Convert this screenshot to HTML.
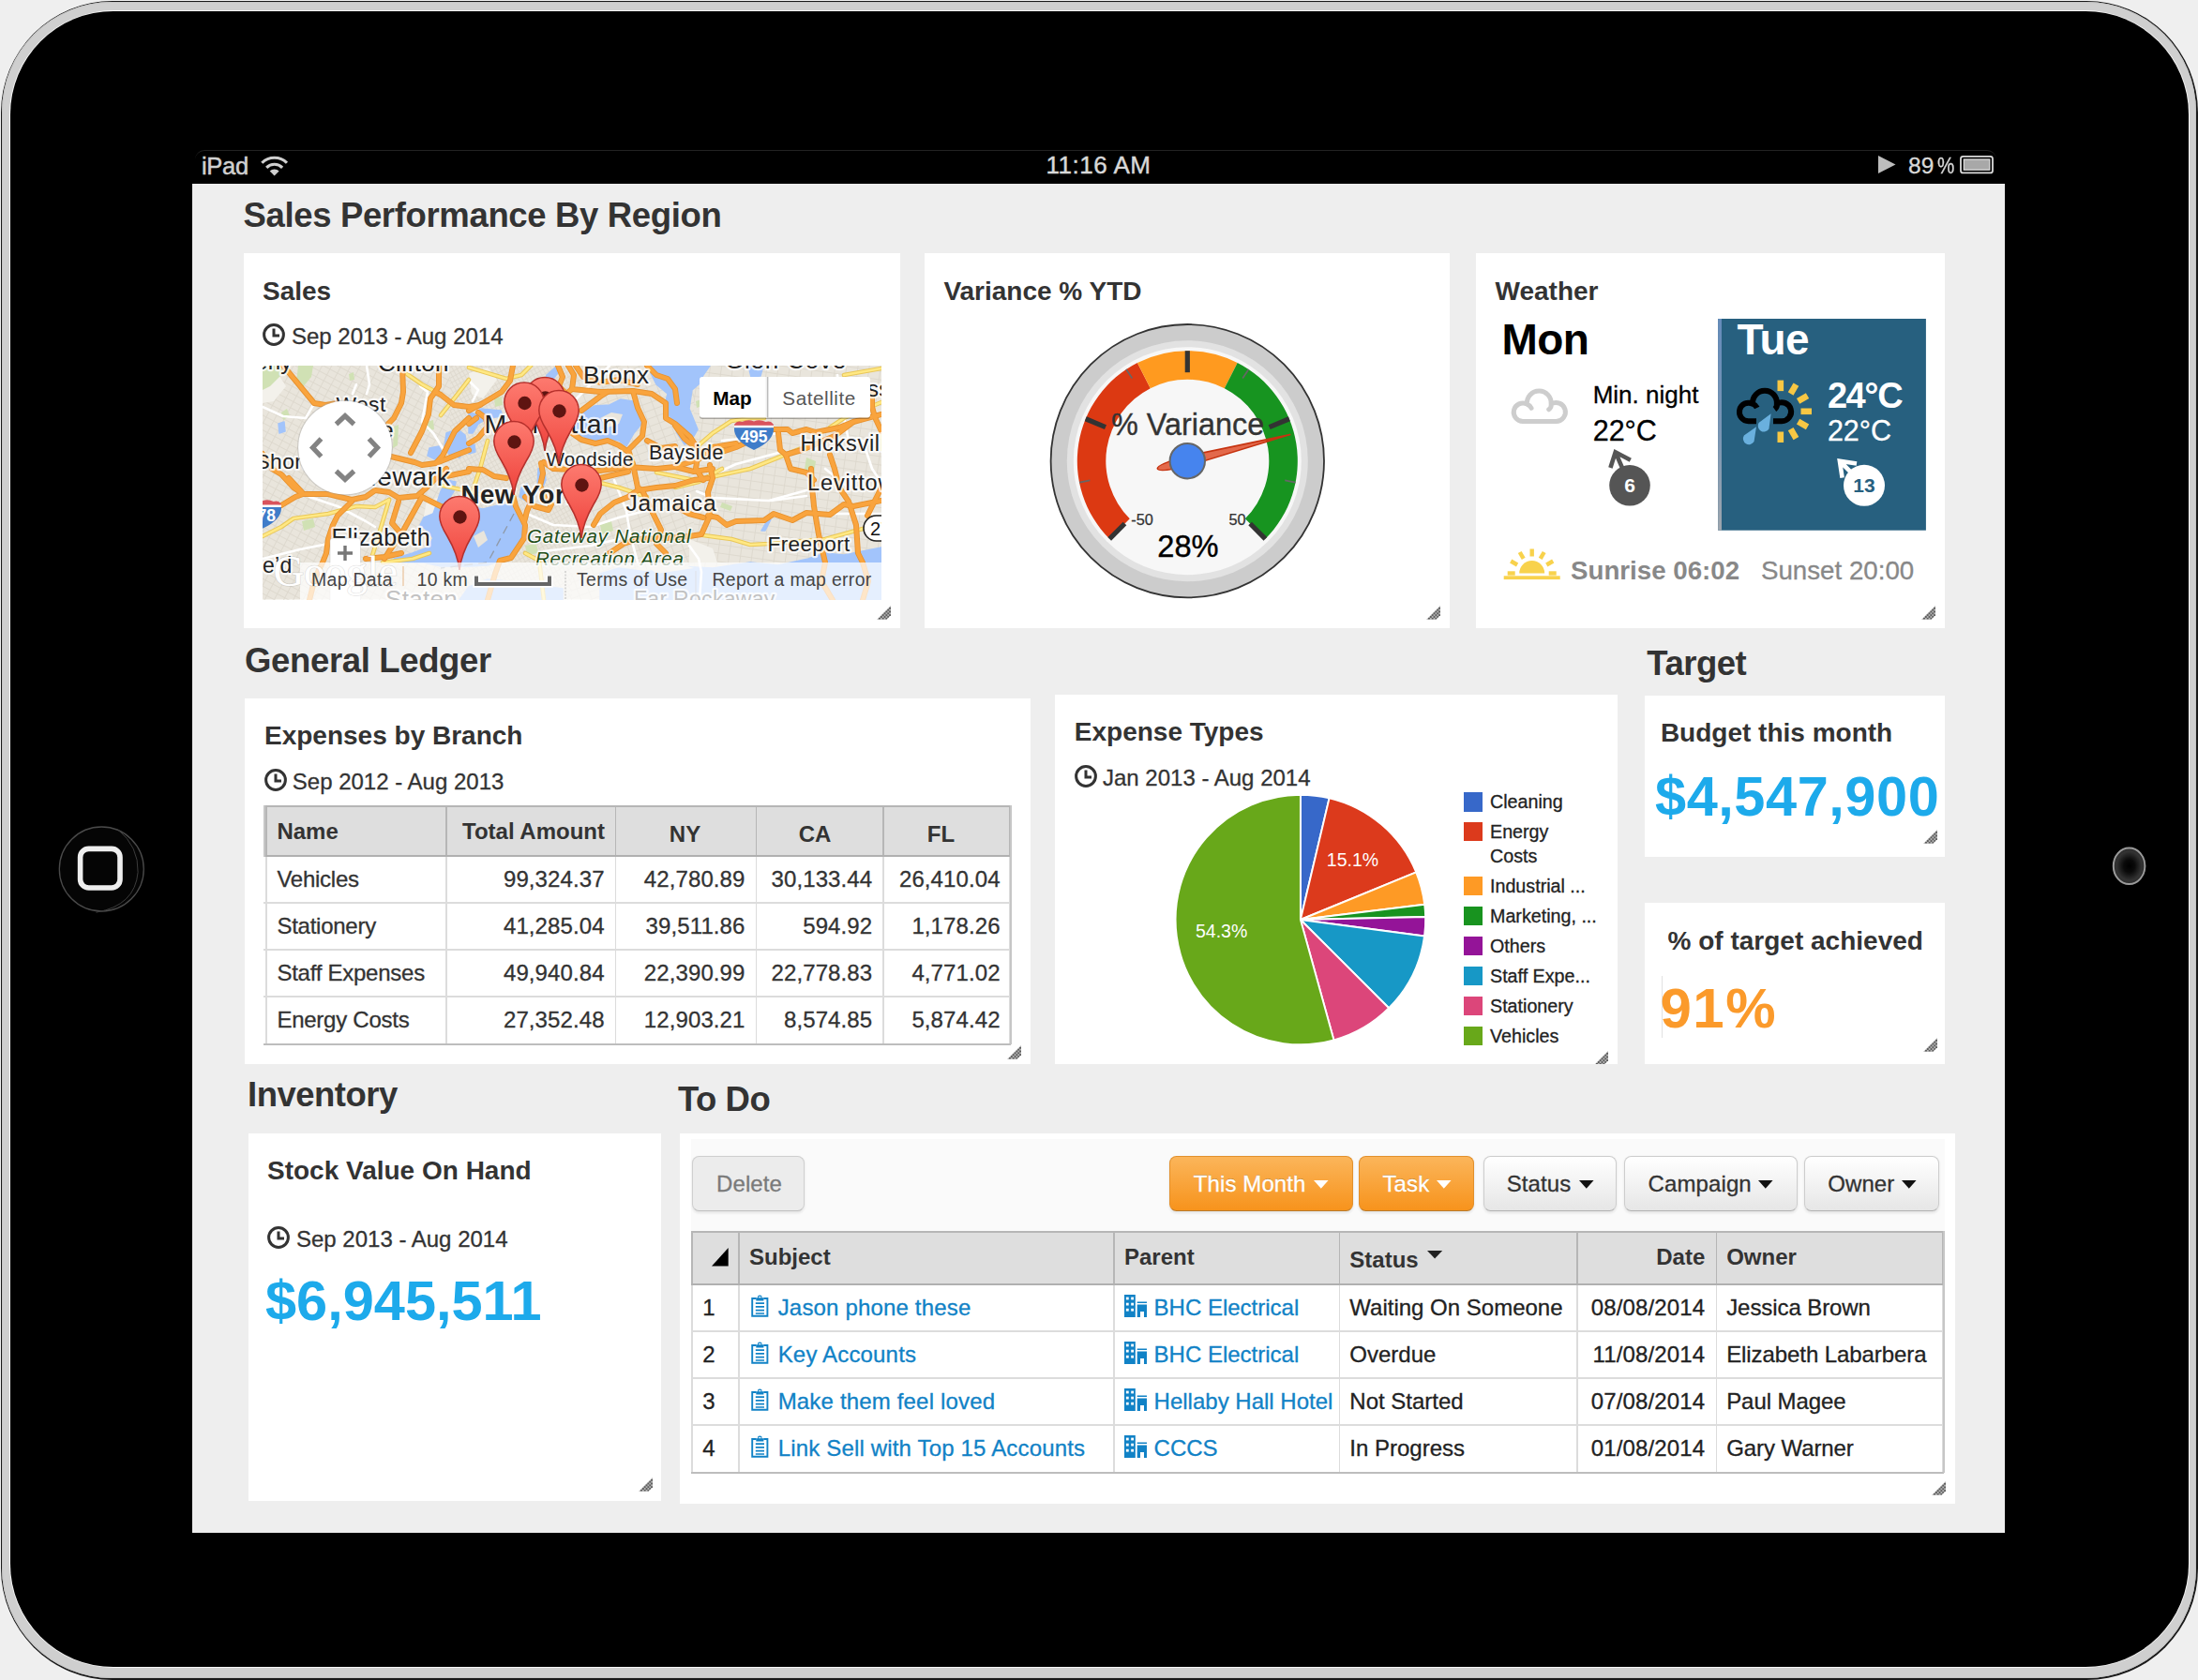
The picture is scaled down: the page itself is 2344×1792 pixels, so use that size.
<!DOCTYPE html>
<html lang="en"><head><meta charset="utf-8"><title>Sales Performance Dashboard</title>
<style>
html,body{margin:0;padding:0;}
body{width:2344px;height:1792px;position:relative;overflow:hidden;background:#efefef;font-family:"Liberation Sans",Arial,sans-serif;color:#333;}
.t{position:absolute;white-space:nowrap;line-height:1;}
.rh{position:absolute;}
svg{overflow:visible;}
svg text{font-family:"Liberation Sans",Arial,sans-serif;}

</style></head>
<body>
<svg width="0" height="0" style="position:absolute"><defs><pattern id="hatch" width="4" height="4" patternUnits="userSpaceOnUse"><rect width="4" height="4" fill="#b4b4b4"/><rect x="0" y="0" width="2" height="2" fill="#5c5c5c"/><rect x="2" y="2" width="2" height="2" fill="#5c5c5c"/></pattern></defs></svg>
<div style="position:absolute;left:0.5px;top:0.5px;width:2343px;height:1791px;border-radius:119px;background:#1a1a1a;"></div>
<div style="position:absolute;left:2px;top:2px;width:2340px;height:1788px;border-radius:117px;background:#cfcfcf;box-shadow:inset 0 0 0 1px #c4c4c4;"></div>
<div style="position:absolute;left:9.6px;top:10.6px;width:2325.8px;height:1768.8px;border-radius:111.5px;background:#f6f6f6;"></div>
<div style="position:absolute;left:11px;top:12px;width:2323px;height:1766px;border-radius:110px;background:#000;"></div>
<svg style="position:absolute;left:50px;top:870px" width="120" height="120" viewBox="50 870 120 120"><circle cx="108.3" cy="927" r="45" fill="#050505" stroke="#4a4a4a" stroke-width="1.3"/><path d="M125.7 884.8 Q148 903 147.1 930.4 Q144 966 102.5 973.2" fill="none" stroke="#3c3c3c" stroke-width="1"/><rect x="85.6" y="905.4" width="42.4" height="41.6" rx="9" fill="#050505" stroke="#eee" stroke-width="5.6"/></svg>
<svg style="position:absolute;left:2240px;top:890px" width="70" height="70" viewBox="2240 890 70 70"><defs><radialGradient id="cam"><stop offset="0" stop-color="#000"/><stop offset="0.35" stop-color="#0a0a0a"/><stop offset="0.8" stop-color="#333"/><stop offset="1" stop-color="#2a2a2a"/></radialGradient></defs><ellipse cx="2270.6" cy="923.7" rx="16.8" ry="19.3" fill="url(#cam)" stroke="#9a9a9a" stroke-width="2"/></svg>
<div class="" style="position:absolute;left:208.00px;top:159.50px;width:1921.00px;height:36.50px;background:#000;border-top:1px solid #222;border-radius:10px 10px 0 0;box-sizing:border-box;"></div>
<div class="t " style="top:165px;font-size:25.5px;left:215.00px;color:#d0d0d0;letter-spacing:-0.3px;-webkit-text-stroke:0.5px #d0d0d0;">iPad</div>
<svg style="position:absolute;left:276.6px;top:165.3px" width="31.3" height="23.9" viewBox="0 0 34 26"><g fill="none" stroke="#d0d0d0" stroke-width="3.4"><path d="M2.5 9.5 A20.5 20.5 0 0 1 31.5 9.5"/><path d="M7.8 15 A13 13 0 0 1 26.2 15"/></g><path d="M17 24.5 L11.6 19 A7.6 7.6 0 0 1 22.4 19 Z" fill="#d0d0d0"/></svg>
<div class="t " style="top:163px;font-size:26px;left:671.50px;width:1000px;text-align:center;color:#d8d8d8;letter-spacing:0.5px;-webkit-text-stroke:0.45px #d8d8d8;">11:16 AM</div>
<svg style="position:absolute;left:2000px;top:160px" width="130" height="34" viewBox="2000 160 130 34"><path d="M2003 166 L2021.5 175.5 L2003 185 Z" fill="#bdbdbd"/><rect x="2091" y="166.8" width="34" height="17.6" rx="2.5" fill="none" stroke="#dcdcdc" stroke-width="1.8"/><rect x="2094.3" y="170" width="27.5" height="11.2" fill="#a8a8a8" stroke="#e4e4e4" stroke-width="1.2"/></svg>
<div class="t " style="top:165px;font-size:24.5px;left:2035.00px;-webkit-text-stroke:0.3px #d8d8d8;color:#d8d8d8;">89</div>
<div class="t " style="top:165px;font-size:24.5px;left:2066.00px;-webkit-text-stroke:0.3px #d8d8d8;color:#d8d8d8;transform:scaleX(0.84);transform-origin:left;">%</div>
<div class="" style="position:absolute;left:205.00px;top:196.00px;width:1933.00px;height:1439.00px;background:#eee;"></div>
<div class="t " style="top:212px;font-size:36.5px;left:259.50px;font-weight:bold;letter-spacing:-0.35px;">Sales Performance By Region</div>
<div class="t " style="top:687px;font-size:36.5px;left:261.00px;font-weight:bold;letter-spacing:-0.35px;">General Ledger</div>
<div class="t " style="top:690px;font-size:36.5px;left:1756.30px;font-weight:bold;letter-spacing:-0.5px;">Target</div>
<div class="t " style="top:1150px;font-size:36.5px;left:264.00px;font-weight:bold;letter-spacing:-0.5px;">Inventory</div>
<div class="t " style="top:1155px;font-size:36.5px;left:723.00px;font-weight:bold;letter-spacing:-0.5px;">To Do</div>
<div class="card" style="position:absolute;left:260.00px;top:270.00px;width:700.00px;height:400.00px;background:#fff;overflow:hidden;"><svg class="rh" style="left:675.40px;top:375.60px" width="15.2" height="14.8" viewBox="0 0 16 16"><path d="M16 0V11L11.3 16H0Z" fill="url(#hatch)"/></svg></div>
<div class="t " style="top:297px;font-size:28px;left:280.00px;font-weight:bold;">Sales</div>
<svg style="position:absolute;left:280.00px;top:345.00px" width="24" height="24" viewBox="0 0 24 24"><circle cx="12" cy="12" r="10.4" fill="none" stroke="#333" stroke-width="3"/><path d="M12 5.5V13H18" fill="none" stroke="#333" stroke-width="3"/></svg>
<div class="t " style="top:347px;font-size:24px;left:311.00px;-webkit-text-stroke:0.3px #333;">Sep 2013 - Aug 2014</div>
<div class="card" style="position:absolute;left:986.00px;top:270.00px;width:560.00px;height:400.00px;background:#fff;overflow:hidden;"><svg class="rh" style="left:535.40px;top:375.60px" width="15.2" height="14.8" viewBox="0 0 16 16"><path d="M16 0V11L11.3 16H0Z" fill="url(#hatch)"/></svg></div>
<div class="t " style="top:297px;font-size:28px;left:1006.40px;font-weight:bold;">Variance % YTD</div>
<div class="card" style="position:absolute;left:1574.00px;top:270.00px;width:500.00px;height:400.00px;background:#fff;overflow:hidden;"><svg class="rh" style="left:475.40px;top:375.50px" width="15.2" height="14.8" viewBox="0 0 16 16"><path d="M16 0V11L11.3 16H0Z" fill="url(#hatch)"/></svg></div>
<div class="t " style="top:297px;font-size:28px;left:1594.50px;font-weight:bold;">Weather</div>
<svg style="position:absolute;left:1110px;top:335px" width="320" height="320" viewBox="1110 335 320 320"><circle cx="1266.3" cy="491.7" r="145.7" fill="#ccc" stroke="#333" stroke-width="1.8"/><circle cx="1266.3" cy="491.7" r="128.5" fill="#e2e2e2"/><circle cx="1266.3" cy="491.7" r="121.5" fill="#f7f7f7"/><path d="M1183.21 574.79 A117.5 117.5 0 0 1 1212.96 387.01 L1226.80 414.18 A87 87 0 0 0 1204.78 553.22 Z" fill="#dc3912"/><path d="M1212.96 387.01 A117.5 117.5 0 0 1 1319.64 387.01 L1305.80 414.18 A87 87 0 0 0 1226.80 414.18 Z" fill="#ff9a1f"/><path d="M1319.64 387.01 A117.5 117.5 0 0 1 1349.39 574.79 L1327.82 553.22 A87 87 0 0 0 1305.80 414.18 Z" fill="#179420"/><path d="M1183.21 574.79 L1199.48 558.52" stroke="#333" stroke-width="5.2"/><path d="M1157.74 446.73 L1178.99 455.54" stroke="#333" stroke-width="5.2"/><path d="M1266.30 374.20 L1266.30 397.20" stroke="#333" stroke-width="5.2"/><path d="M1374.86 446.73 L1353.61 455.54" stroke="#333" stroke-width="5.2"/><path d="M1349.39 574.79 L1333.12 558.52" stroke="#333" stroke-width="5.2"/><path d="M1151.06 514.62 L1162.34 512.38" stroke="#666" stroke-width="1.7"/><path d="M1201.02 394.00 L1207.41 403.56" stroke="#666" stroke-width="1.7"/><path d="M1331.58 394.00 L1325.19 403.56" stroke="#666" stroke-width="1.7"/><path d="M1381.54 514.62 L1370.26 512.38" stroke="#666" stroke-width="1.7"/><text x="1266.6" y="464.3" font-size="32.4" text-anchor="middle" fill="#333" stroke="#333" stroke-width="0.35">% Variance</text><text x="1266.8999999999999" y="593.6" font-size="32.6" text-anchor="middle" fill="#000" stroke="#000" stroke-width="0.4">28%</text><text x="1206.3" y="560" font-size="16.3" fill="#333" stroke="#333" stroke-width="0.25">-50</text><text x="1310.5" y="560" font-size="16.3" fill="#333" stroke="#333" stroke-width="0.25">50</text><path d="M1375.75 463.60 L1267.59 496.74 Q1235.50 504.44 1234.34 499.91 Q1233.17 495.37 1265.01 486.66 Z" fill="#dc3912" fill-opacity="0.75" stroke="#c63310" stroke-width="1.6" stroke-linejoin="round"/><circle cx="1266.3" cy="491.7" r="18.7" fill="#4684ee" stroke="#666" stroke-width="2"/></svg>
<svg style="position:absolute;left:1574px;top:330px" width="500" height="320" viewBox="1574 330 500 320"><defs><linearGradient id="tl" x1="0" y1="0" x2="0" y2="1"><stop offset="0" stop-color="#668cbb"/><stop offset="0.55" stop-color="#7a96b4"/><stop offset="1" stop-color="#9ea6ae"/></linearGradient><filter id="bl"><feGaussianBlur stdDeviation="0.5"/></filter></defs><path d="M1624.00 449.50 A9.75 9.75 0 1 1 1628.45 431.08 A12.9 12.9 0 1 1 1654.15 430.99 A10.0 10.0 0 1 1 1659.40 449.50 Z M1628.45 431.08 q3.2 1.2 4.6 4.2 M1654.15 430.99 q0.6 3.6 -2.4 5.8" fill="none" stroke="#cdcdcd" stroke-width="5" stroke-linejoin="round" stroke-linecap="round" filter="url(#bl)"/><g filter="url(#bl)"><circle cx="1738" cy="517.8" r="21.8" fill="#555"/><path d="M1733 506 L1722.9 482.6 M1717.4 499 L1722.7 482.3 L1738.8 490.8" fill="none" stroke="#555" stroke-width="4.6" stroke-linejoin="miter"/></g><text x="1738" y="525.3" font-size="21" font-weight="bold" fill="#fff" text-anchor="middle">6</text><rect x="1832.2" y="340" width="221.7" height="225.7" fill="#27607f"/><rect x="1832.2" y="340" width="3.8" height="225.7" fill="url(#tl)"/><rect x="1895.50" y="405.60" width="6.6" height="11.5" fill="#f7c744" transform="rotate(0 1898.8 438.8)"/><rect x="1895.50" y="405.60" width="6.6" height="11.5" fill="#f7c744" transform="rotate(30 1898.8 438.8)"/><rect x="1895.50" y="405.60" width="6.6" height="11.5" fill="#f7c744" transform="rotate(60 1898.8 438.8)"/><rect x="1895.50" y="405.60" width="6.6" height="11.5" fill="#f7c744" transform="rotate(90 1898.8 438.8)"/><rect x="1895.50" y="405.60" width="6.6" height="11.5" fill="#f7c744" transform="rotate(120 1898.8 438.8)"/><rect x="1895.50" y="405.60" width="6.6" height="11.5" fill="#f7c744" transform="rotate(150 1898.8 438.8)"/><rect x="1895.50" y="405.60" width="6.6" height="11.5" fill="#f7c744" transform="rotate(180 1898.8 438.8)"/><path d="M1873.00 449.20 L1864.70 449.20 A9.75 9.75 0 1 1 1869.15 430.78 A12.9 12.9 0 1 1 1894.85 430.69 A10.0 10.0 0 1 1 1900.10 449.20 L1891.00 449.20 M1869.15 430.78 q3.2 1.2 4.6 4.2 M1894.85 430.69 q0.6 3.6 -2.4 5.8" fill="none" stroke="#000" stroke-width="6" stroke-linejoin="round"/><path d="M1888.60 441.20 L1875.56 451.02 A6.3 6.3 0 1 0 1886.44 457.38 Z" fill="#6ab0de"/><path d="M1873.00 455.20 L1859.84 464.48 A6.3 6.3 0 1 0 1870.56 471.12 Z" fill="#6ab0de"/><g filter="url(#bl)"><circle cx="1988" cy="517.8" r="22" fill="#fff"/><path d="M1976 505.8 L1962.2 492 M1964.6 509.6 L1961.9 491.7 L1980 494.4" fill="none" stroke="#fff" stroke-width="4.6" stroke-linejoin="miter"/></g><text x="1988" y="525.3" font-size="21" font-weight="bold" fill="#27607f" text-anchor="middle">13</text><path d="M1620.2 611.5 A13.5 13.5 0 0 1 1647.2 611.5 Z" fill="#f8d24c"/><rect x="1631.50" y="585.50" width="4.4" height="8" fill="#f8d24c" transform="rotate(-90 1633.7 611.5)"/><rect x="1631.50" y="585.50" width="4.4" height="8" fill="#f8d24c" transform="rotate(-60 1633.7 611.5)"/><rect x="1631.50" y="585.50" width="4.4" height="8" fill="#f8d24c" transform="rotate(-30 1633.7 611.5)"/><rect x="1631.50" y="585.50" width="4.4" height="8" fill="#f8d24c" transform="rotate(0 1633.7 611.5)"/><rect x="1631.50" y="585.50" width="4.4" height="8" fill="#f8d24c" transform="rotate(30 1633.7 611.5)"/><rect x="1631.50" y="585.50" width="4.4" height="8" fill="#f8d24c" transform="rotate(60 1633.7 611.5)"/><rect x="1631.50" y="585.50" width="4.4" height="8" fill="#f8d24c" transform="rotate(90 1633.7 611.5)"/><rect x="1603.7" y="614.3" width="60" height="3.8" fill="#f8d24c"/></svg>
<div class="t " style="top:339px;font-size:46px;left:1601.50px;font-weight:bold;color:#000;letter-spacing:-0.6px;">Mon</div>
<div class="t " style="top:339px;font-size:46px;left:1852.50px;font-weight:bold;color:#fff;letter-spacing:-0.6px;">Tue</div>
<div class="t " style="top:408px;font-size:26px;left:1698.70px;-webkit-text-stroke:0.3px #000;color:#000;">Min. night</div>
<div class="t " style="top:444px;font-size:30.5px;left:1698.70px;-webkit-text-stroke:0.3px #000;color:#000;">22°C</div>
<div class="t " style="top:403px;font-size:38px;left:1948.90px;font-weight:bold;color:#fff;letter-spacing:-1.4px;">24°C</div>
<div class="t " style="top:444px;font-size:30.5px;left:1948.90px;-webkit-text-stroke:0.3px #fff;color:#fff;">22°C</div>
<div class="t " style="top:595px;font-size:27.7px;left:1675.00px;font-weight:bold;color:#888;">Sunrise 06:02</div>
<div class="t " style="top:595px;font-size:27.7px;left:1878.00px;-webkit-text-stroke:0.3px #888;color:#888;">Sunset 20:00</div>
<svg style="position:absolute;left:280px;top:390px;overflow:hidden" width="660" height="249.5" viewBox="280 390 660 249.5"><defs>
<pattern id="st1" width="9" height="7" patternUnits="userSpaceOnUse" patternTransform="rotate(28)"><path d="M0 0.5H9M0.5 0V7" stroke="#d3cdc1" stroke-width="0.9" fill="none"/></pattern>
<pattern id="st2" width="11" height="8" patternUnits="userSpaceOnUse" patternTransform="rotate(-20)"><path d="M0 0.5H11M0.5 0V8" stroke="#d3cdc1" stroke-width="0.9" fill="none"/></pattern>
<pattern id="st3" width="5" height="4" patternUnits="userSpaceOnUse" patternTransform="rotate(61)"><path d="M0 0.5H5M0.5 0V4" stroke="#cfc9bd" stroke-width="0.8" fill="none"/></pattern>
<pattern id="st4" width="12" height="9" patternUnits="userSpaceOnUse" patternTransform="rotate(8)"><path d="M0 0.5H12M0.5 0V9" stroke="#d3cdc1" stroke-width="0.9" fill="none"/></pattern>
<linearGradient id="mk" x1="0" y1="0" x2="0" y2="1"><stop offset="0" stop-color="#fd7a6f"/><stop offset="0.55" stop-color="#f55c53"/><stop offset="1" stop-color="#ee3f3a"/></linearGradient>
<filter id="mb" x="-5%" y="-5%" width="110%" height="110%"><feGaussianBlur stdDeviation="0.45"/></filter>
<g id="pin"><path d="M0 0 C-1.5 -14 -6 -24 -13 -36 C-18 -44 -21.2 -50 -21.2 -57.3 A21.2 21.2 0 0 1 21.2 -57.3 C21.2 -50 18 -44 13 -36 C6 -24 1.5 -14 0 0 Z" fill="url(#mk)" stroke="#b5302c" stroke-width="1.5"/><circle cx="0.5" cy="-56.5" r="7.2" fill="#5e1411"/></g>
</defs><rect x="280" y="390" width="660" height="249.5" fill="#e9e5dc"/><rect x="280" y="390" width="200" height="250" fill="url(#st1)" opacity="0.55"/><rect x="480" y="390" width="130" height="250" fill="url(#st3)" opacity="0.5"/><rect x="610" y="390" width="130" height="250" fill="url(#st2)" opacity="0.55"/><rect x="740" y="390" width="200" height="250" fill="url(#st4)" opacity="0.55"/><path d="M280 405 L296 398 L305 412 L292 428 L280 430Z" fill="#f3f1eb"/><path d="M455 535 L468 530 L462 555 L450 560Z" fill="#f3f1eb"/><path d="M735 575 L760 585 L765 600 L735 600Z" fill="#f3f1eb"/><path d="M500 398 L520 392 L530 405 L515 425 L503 420Z" fill="#f3f1eb"/><path d="M280 390 L300 390 L302 398 L288 412 L280 416Z" fill="#d0e1b4"/><path d="M318 390 L334 390 L332 402 L322 414 L316 408Z" fill="#d0e1b4"/><path d="M322 556 L334 553 L336 562 L324 566Z" fill="#d0e1b4"/><path d="M300 440 L306 436 L309 444 L302 448Z" fill="#d0e1b4"/><path d="M372 399 L377 397 L378 405 L373 406Z" fill="#d0e1b4"/><path d="M455 450 L462 448 L463 458 L456 460Z" fill="#d0e1b4"/><path d="M560 582 L572 580 L574 590 L562 592Z" fill="#d0e1b4"/><path d="M860 488 L870 492 L868 505 L858 500Z" fill="#d0e1b4"/><path d="M770 536 L781 540 L779 545 L768 541Z" fill="#d0e1b4"/><path d="M527 425 L535 423 L536 432 L528 434Z" fill="#d0e1b4"/><path d="M420 455 L425 453 L424 475 L419 478Z" fill="#d0e1b4"/><path d="M640 560 L652 556 L654 566 L642 570Z" fill="#d0e1b4"/><path d="M742 428 L748 426 L749 433 L743 435Z" fill="#d0e1b4"/><path d="M693 390 L757 390 L750 400 L745 410 L738 416 L735 436 L744 458 L737 470 L730 474 L722 462 L716 446 L708 436 L712 420 L700 410 L694 398Z" fill="#a2c4fb" stroke="#a2c4fb" stroke-width="1.5" stroke-linejoin="round"/><path d="M622 440 L634 433 L650 432 L662 426 L675 428 L682 440 L684 452 L676 462 L668 476 L660 470 L650 468 L640 470 L628 468 L614 462 L610 452 L616 446Z" fill="#a2c4fb" stroke="#a2c4fb" stroke-width="1.5" stroke-linejoin="round"/><path d="M583 400 L592 392 L598 394 L590 404 L586 414 L580 414Z" fill="#a2c4fb" stroke="#a2c4fb" stroke-width="1.5" stroke-linejoin="round"/><path d="M500 440 L508 442 L512 436 L534 438 L536 444 L520 446 L510 452 L504 462 L500 462Z" fill="#a2c4fb" stroke="#a2c4fb" stroke-width="1.5" stroke-linejoin="round"/><path d="M500 476 L506 474 L507 482 L500 484Z" fill="#a2c4fb" stroke="#a2c4fb" stroke-width="1.5" stroke-linejoin="round"/><path d="M470 548 L480 544 L492 546 L500 540 L515 543 L535 538 L548 540 L554 550 L560 558 L558 572 L545 590 L533 598 L520 603 L500 604 L470 604 L452 600 L430 600 L420 596 L440 590 L456 584 L462 574 L456 566 L448 560 L452 552 L462 548Z" fill="#a2c4fb" stroke="#a2c4fb" stroke-width="1.5" stroke-linejoin="round"/><path d="M476 512 L486 514 L484 524 L476 536 L468 548 L462 548 L466 536 L470 524Z" fill="#a2c4fb" stroke="#a2c4fb" stroke-width="1.5" stroke-linejoin="round"/><path d="M476 462 L488 458 L496 464 L498 478 L490 488 L480 486 L474 476Z" fill="#a2c4fb" stroke="#a2c4fb" stroke-width="1.5" stroke-linejoin="round"/><path d="M458 478 L468 476 L472 484 L464 490 L456 486Z" fill="#a2c4fb" stroke="#a2c4fb" stroke-width="1.5" stroke-linejoin="round"/><path d="M574 500 L580 498 L582 512 L578 522 L573 520Z" fill="#a2c4fb" stroke="#a2c4fb" stroke-width="1.5" stroke-linejoin="round"/><path d="M556 520 L562 516 L566 528 L560 534 L554 530Z" fill="#a2c4fb" stroke="#a2c4fb" stroke-width="1.5" stroke-linejoin="round"/><path d="M798 390 L814 390 L811 401 L801 402Z" fill="#a2c4fb" stroke="#a2c4fb" stroke-width="1.5" stroke-linejoin="round"/><path d="M862 596 L880 590 L900 592 L920 588 L940 584 L940 640 L640 640 L640 612 L660 606 L690 610 L720 604 L760 606 L800 600 L830 603Z" fill="#a2c4fb" stroke="#a2c4fb" stroke-width="1.5" stroke-linejoin="round"/><path d="M500 626 L520 618 L560 622 L600 628 L600 640 L490 640Z" fill="#a2c4fb" stroke="#a2c4fb" stroke-width="1.5" stroke-linejoin="round"/><path d="M297 452 L303 450 L304 460 L298 462Z" fill="#a2c4fb" stroke="#a2c4fb" stroke-width="1.5" stroke-linejoin="round"/><path d="M818 556 L822 554 L816 566 L812 566Z" fill="#a2c4fb" stroke="#a2c4fb" stroke-width="1.5" stroke-linejoin="round"/><path d="M640 446 L652 440 L664 442 L660 452 L648 456Z" fill="#e9e5dc"/><path d="M690 604 L720 600 L740 606 L700 612Z" fill="#e9e5dc"/><path d="M505 572 L516 566 L520 576 L510 584Z" fill="#e9e5dc"/><path d="M548 548 L520 600 L470 606" stroke="#8f99a8" stroke-width="1.3" stroke-dasharray="9 6" fill="none"/><path d="M280 434 L302 444 L326 446 L334 432" stroke="#fff" stroke-width="2.6" fill="none" stroke-linejoin="round" stroke-linecap="round"/><path d="M380 410 L376 420" stroke="#fff" stroke-width="2.6" fill="none" stroke-linejoin="round" stroke-linecap="round"/><path d="M391 390 L394 410 L391 420" stroke="#fff" stroke-width="2.6" fill="none" stroke-linejoin="round" stroke-linecap="round"/><path d="M448 412 L456 418 L450 450 L462 462 L472 478" stroke="#fff" stroke-width="2.6" fill="none" stroke-linejoin="round" stroke-linecap="round"/><path d="M280 596 L320 586 L350 580" stroke="#fff" stroke-width="2.6" fill="none" stroke-linejoin="round" stroke-linecap="round"/><path d="M330 530 L360 540 L390 556 L400 562" stroke="#fff" stroke-width="2.6" fill="none" stroke-linejoin="round" stroke-linecap="round"/><path d="M500 406 L510 416 L504 428" stroke="#fff" stroke-width="2.6" fill="none" stroke-linejoin="round" stroke-linecap="round"/><path d="M562 548 L590 560 L630 562 L660 552 L700 542" stroke="#fff" stroke-width="2.6" fill="none" stroke-linejoin="round" stroke-linecap="round"/><path d="M580 588 L630 582 L660 575" stroke="#fff" stroke-width="2.6" fill="none" stroke-linejoin="round" stroke-linecap="round"/><path d="M655 512 L668 545 L672 570 L680 600" stroke="#fff" stroke-width="2.6" fill="none" stroke-linejoin="round" stroke-linecap="round"/><path d="M763 505 L785 495 L830 483" stroke="#fff" stroke-width="2.6" fill="none" stroke-linejoin="round" stroke-linecap="round"/><path d="M743 524 L760 531 L820 534 L860 523" stroke="#fff" stroke-width="2.6" fill="none" stroke-linejoin="round" stroke-linecap="round"/><path d="M822 534 L860 529" stroke="#fff" stroke-width="2.6" fill="none" stroke-linejoin="round" stroke-linecap="round"/><path d="M890 548 L940 548" stroke="#fff" stroke-width="2.6" fill="none" stroke-linejoin="round" stroke-linecap="round"/><path d="M770 470 L790 468 L830 462" stroke="#fff" stroke-width="2.6" fill="none" stroke-linejoin="round" stroke-linecap="round"/><path d="M735 582 L745 596 L748 610 L746 640" stroke="#fff" stroke-width="2.6" fill="none" stroke-linejoin="round" stroke-linecap="round"/><path d="M893 400 L897 430 L905 470" stroke="#fff" stroke-width="2.6" fill="none" stroke-linejoin="round" stroke-linecap="round"/><path d="M920 470 L930 500 L940 515" stroke="#fff" stroke-width="2.6" fill="none" stroke-linejoin="round" stroke-linecap="round"/><path d="M610 430 L640 400 L650 390" stroke="#fff" stroke-width="2.6" fill="none" stroke-linejoin="round" stroke-linecap="round"/><path d="M880 500 L905 520" stroke="#fff" stroke-width="2.6" fill="none" stroke-linejoin="round" stroke-linecap="round"/><path d="M280 572 L300 562 L313 553 L350 548 L380 540 L400 541 L415 533" stroke="#e9c758" stroke-width="4.6" fill="none" stroke-linejoin="round" stroke-linecap="round"/><path d="M434 399 L450 410 L463 417" stroke="#e9c758" stroke-width="4.6" fill="none" stroke-linejoin="round" stroke-linecap="round"/><path d="M500 405 L486 423 L470 443" stroke="#e9c758" stroke-width="4.6" fill="none" stroke-linejoin="round" stroke-linecap="round"/><path d="M745 475 L760 462 L780 449 L800 446 L815 446" stroke="#e9c758" stroke-width="4.6" fill="none" stroke-linejoin="round" stroke-linecap="round"/><path d="M900 400 L940 393" stroke="#e9c758" stroke-width="4.6" fill="none" stroke-linejoin="round" stroke-linecap="round"/><path d="M940 429 L900 446 L885 456" stroke="#e9c758" stroke-width="4.6" fill="none" stroke-linejoin="round" stroke-linecap="round"/><path d="M763 508 L800 500 L830 488 L855 478" stroke="#e9c758" stroke-width="4.6" fill="none" stroke-linejoin="round" stroke-linecap="round"/><path d="M750 571 L780 575 L800 581 L820 580 L880 575 L920 564" stroke="#e9c758" stroke-width="4.6" fill="none" stroke-linejoin="round" stroke-linecap="round"/><path d="M500 392 L540 404 L556 400 L566 390" stroke="#e9c758" stroke-width="4.6" fill="none" stroke-linejoin="round" stroke-linecap="round"/><path d="M520 470 L512 500 L505 520" stroke="#e9c758" stroke-width="4.6" fill="none" stroke-linejoin="round" stroke-linecap="round"/><path d="M472 518 L500 524 L520 530" stroke="#e9c758" stroke-width="4.6" fill="none" stroke-linejoin="round" stroke-linecap="round"/><path d="M415 533 L404 570 L396 596" stroke="#e9c758" stroke-width="4.6" fill="none" stroke-linejoin="round" stroke-linecap="round"/><path d="M640 515 L660 520 L690 530" stroke="#e9c758" stroke-width="4.6" fill="none" stroke-linejoin="round" stroke-linecap="round"/><path d="M700 504 L740 512 L763 508" stroke="#e9c758" stroke-width="4.6" fill="none" stroke-linejoin="round" stroke-linecap="round"/><path d="M720 520 L745 514 L770 500" stroke="#e9c758" stroke-width="4.6" fill="none" stroke-linejoin="round" stroke-linecap="round"/><path d="M560 590 L575 598 L580 640" stroke="#e9c758" stroke-width="4.6" fill="none" stroke-linejoin="round" stroke-linecap="round"/><path d="M408 600 L440 596 L458 590" stroke="#e9c758" stroke-width="4.6" fill="none" stroke-linejoin="round" stroke-linecap="round"/><path d="M280 572 L300 562 L313 553 L350 548 L380 540 L400 541 L415 533" stroke="#ffe884" stroke-width="2.6" fill="none" stroke-linejoin="round" stroke-linecap="round"/><path d="M434 399 L450 410 L463 417" stroke="#ffe884" stroke-width="2.6" fill="none" stroke-linejoin="round" stroke-linecap="round"/><path d="M500 405 L486 423 L470 443" stroke="#ffe884" stroke-width="2.6" fill="none" stroke-linejoin="round" stroke-linecap="round"/><path d="M745 475 L760 462 L780 449 L800 446 L815 446" stroke="#ffe884" stroke-width="2.6" fill="none" stroke-linejoin="round" stroke-linecap="round"/><path d="M900 400 L940 393" stroke="#ffe884" stroke-width="2.6" fill="none" stroke-linejoin="round" stroke-linecap="round"/><path d="M940 429 L900 446 L885 456" stroke="#ffe884" stroke-width="2.6" fill="none" stroke-linejoin="round" stroke-linecap="round"/><path d="M763 508 L800 500 L830 488 L855 478" stroke="#ffe884" stroke-width="2.6" fill="none" stroke-linejoin="round" stroke-linecap="round"/><path d="M750 571 L780 575 L800 581 L820 580 L880 575 L920 564" stroke="#ffe884" stroke-width="2.6" fill="none" stroke-linejoin="round" stroke-linecap="round"/><path d="M500 392 L540 404 L556 400 L566 390" stroke="#ffe884" stroke-width="2.6" fill="none" stroke-linejoin="round" stroke-linecap="round"/><path d="M520 470 L512 500 L505 520" stroke="#ffe884" stroke-width="2.6" fill="none" stroke-linejoin="round" stroke-linecap="round"/><path d="M472 518 L500 524 L520 530" stroke="#ffe884" stroke-width="2.6" fill="none" stroke-linejoin="round" stroke-linecap="round"/><path d="M415 533 L404 570 L396 596" stroke="#ffe884" stroke-width="2.6" fill="none" stroke-linejoin="round" stroke-linecap="round"/><path d="M640 515 L660 520 L690 530" stroke="#ffe884" stroke-width="2.6" fill="none" stroke-linejoin="round" stroke-linecap="round"/><path d="M700 504 L740 512 L763 508" stroke="#ffe884" stroke-width="2.6" fill="none" stroke-linejoin="round" stroke-linecap="round"/><path d="M720 520 L745 514 L770 500" stroke="#ffe884" stroke-width="2.6" fill="none" stroke-linejoin="round" stroke-linecap="round"/><path d="M560 590 L575 598 L580 640" stroke="#ffe884" stroke-width="2.6" fill="none" stroke-linejoin="round" stroke-linecap="round"/><path d="M408 600 L440 596 L458 590" stroke="#ffe884" stroke-width="2.6" fill="none" stroke-linejoin="round" stroke-linecap="round"/><path d="M302 390 L335 430 L347 432 L360 430" stroke="#e8922e" stroke-width="6" fill="none" stroke-linejoin="round" stroke-linecap="round"/><path d="M417 487 L442 493 L450 496 L465 494 L472 486 L485 460 L500 446" stroke="#e8922e" stroke-width="6" fill="none" stroke-linejoin="round" stroke-linecap="round"/><path d="M429 390 L430 418 L428 430 L420 446 L414 452" stroke="#e8922e" stroke-width="6" fill="none" stroke-linejoin="round" stroke-linecap="round"/><path d="M468 390 L468 412 L464 418 L459 425 L457 442 L450 460 L438 483" stroke="#e8922e" stroke-width="6" fill="none" stroke-linejoin="round" stroke-linecap="round"/><path d="M464 418 L470 421 L484 432 L500 434 L512 432" stroke="#e8922e" stroke-width="6" fill="none" stroke-linejoin="round" stroke-linecap="round"/><path d="M280 484 L290 500 L300 506 L313 520 L322 526" stroke="#e8922e" stroke-width="6" fill="none" stroke-linejoin="round" stroke-linecap="round"/><path d="M465 494 L500 480" stroke="#e8922e" stroke-width="6" fill="none" stroke-linejoin="round" stroke-linecap="round"/><path d="M476 508 L500 503" stroke="#e8922e" stroke-width="6" fill="none" stroke-linejoin="round" stroke-linecap="round"/><path d="M300 539 L315 530 L323 527 L350 527 L375 533 L390 530 L400 523 L415 525 L425 531 L445 529 L455 520 L465 510 L476 500" stroke="#e8922e" stroke-width="6" fill="none" stroke-linejoin="round" stroke-linecap="round"/><path d="M308 510 L322 525" stroke="#e8922e" stroke-width="6" fill="none" stroke-linejoin="round" stroke-linecap="round"/><path d="M425 535 L418 558 L425 566" stroke="#e8922e" stroke-width="6" fill="none" stroke-linejoin="round" stroke-linecap="round"/><path d="M450 530 L430 566 L415 588 L410 596" stroke="#e8922e" stroke-width="6" fill="none" stroke-linejoin="round" stroke-linecap="round"/><path d="M375 535 L360 550 L355 560 L350 575 L348 590 L344 600 L336 616 L330 640" stroke="#e8922e" stroke-width="6" fill="none" stroke-linejoin="round" stroke-linecap="round"/><path d="M390 596 L410 594 L428 590" stroke="#e8922e" stroke-width="6" fill="none" stroke-linejoin="round" stroke-linecap="round"/><path d="M450 530 L470 540 L480 542" stroke="#e8922e" stroke-width="6" fill="none" stroke-linejoin="round" stroke-linecap="round"/><path d="M500 438 L515 430 L535 418 L544 406 L547 390" stroke="#e8922e" stroke-width="6" fill="none" stroke-linejoin="round" stroke-linecap="round"/><path d="M500 473 L510 467 L520 455 L518 446 L510 440" stroke="#e8922e" stroke-width="6" fill="none" stroke-linejoin="round" stroke-linecap="round"/><path d="M500 500 L515 501 L527 508 L540 510" stroke="#e8922e" stroke-width="6" fill="none" stroke-linejoin="round" stroke-linecap="round"/><path d="M500 452 L508 446" stroke="#e8922e" stroke-width="6" fill="none" stroke-linejoin="round" stroke-linecap="round"/><path d="M595 390 L600 402 L596 412 L604 420 L610 415" stroke="#e8922e" stroke-width="6" fill="none" stroke-linejoin="round" stroke-linecap="round"/><path d="M606 390 L612 400 L610 415 L640 418 L675 417 L695 420 L710 430 L710 446 L720 452 L736 466 L745 480 L742 500 L750 512" stroke="#e8922e" stroke-width="6" fill="none" stroke-linejoin="round" stroke-linecap="round"/><path d="M614 390 L622 402 L640 408 L660 405 L680 410" stroke="#e8922e" stroke-width="6" fill="none" stroke-linejoin="round" stroke-linecap="round"/><path d="M620 438 L640 423 L648 418" stroke="#e8922e" stroke-width="6" fill="none" stroke-linejoin="round" stroke-linecap="round"/><path d="M675 417 L680 435 L687 450 L685 465 L670 480 L675 495 L680 520 L685 523 L695 545 L705 565 L700 580 L710 590" stroke="#e8922e" stroke-width="6" fill="none" stroke-linejoin="round" stroke-linecap="round"/><path d="M610 462 L620 469 L635 473 L648 470 L660 475 L670 482" stroke="#e8922e" stroke-width="6" fill="none" stroke-linejoin="round" stroke-linecap="round"/><path d="M580 493 L590 500 L610 501 L640 502 L670 498 L700 500 L720 498 L745 490 L760 477 L785 473" stroke="#e8922e" stroke-width="6" fill="none" stroke-linejoin="round" stroke-linecap="round"/><path d="M577 494 L579 505 L576 518 L580 528" stroke="#e8922e" stroke-width="6" fill="none" stroke-linejoin="round" stroke-linecap="round"/><path d="M640 510 L670 503" stroke="#e8922e" stroke-width="6" fill="none" stroke-linejoin="round" stroke-linecap="round"/><path d="M547 528 L550 540 L560 560 L559 574 L545 595 L533 598 L528 612 L520 640" stroke="#e8922e" stroke-width="6" fill="none" stroke-linejoin="round" stroke-linecap="round"/><path d="M560 530 L566 536 L562 545 L559 557" stroke="#e8922e" stroke-width="6" fill="none" stroke-linejoin="round" stroke-linecap="round"/><path d="M570 540 L585 544 L588 538 L580 530" stroke="#e8922e" stroke-width="6" fill="none" stroke-linejoin="round" stroke-linecap="round"/><path d="M633 560 L640 548 L655 536 L670 530 L680 523 L700 520 L720 518 L740 512 L755 510" stroke="#e8922e" stroke-width="6" fill="none" stroke-linejoin="round" stroke-linecap="round"/><path d="M650 590 L665 580 L680 575 L710 574 L735 572 L748 570 L757 550 L755 525 L760 510 L757 496" stroke="#e8922e" stroke-width="6" fill="none" stroke-linejoin="round" stroke-linecap="round"/><path d="M690 390 L700 400 L712 404 L720 415 L722 430" stroke="#e8922e" stroke-width="6" fill="none" stroke-linejoin="round" stroke-linecap="round"/><path d="M720 454 L730 468 L745 480" stroke="#e8922e" stroke-width="6" fill="none" stroke-linejoin="round" stroke-linecap="round"/><path d="M720 498 L740 503 L760 500" stroke="#e8922e" stroke-width="6" fill="none" stroke-linejoin="round" stroke-linecap="round"/><path d="M770 482 L785 477 L800 470" stroke="#e8922e" stroke-width="6" fill="none" stroke-linejoin="round" stroke-linecap="round"/><path d="M825 458 L840 458 L845 462 L860 458 L870 461 L895 456 L910 450 L940 442" stroke="#e8922e" stroke-width="6" fill="none" stroke-linejoin="round" stroke-linecap="round"/><path d="M830 462 L832 480 L838 485 L855 480 L890 465 L910 450" stroke="#e8922e" stroke-width="6" fill="none" stroke-linejoin="round" stroke-linecap="round"/><path d="M838 485 L843 500 L860 504 L868 512" stroke="#e8922e" stroke-width="6" fill="none" stroke-linejoin="round" stroke-linecap="round"/><path d="M930 420 L930 434 L933 445 L940 460" stroke="#e8922e" stroke-width="6" fill="none" stroke-linejoin="round" stroke-linecap="round"/><path d="M885 485 L890 500 L895 520 L905 535 L913 560 L915 590 L920 600 L926 620 L920 640" stroke="#e8922e" stroke-width="6" fill="none" stroke-linejoin="round" stroke-linecap="round"/><path d="M755 550 L765 552 L775 560 L785 556 L815 555 L825 548 L845 555 L860 547 L885 549 L900 538 L910 540 L940 534" stroke="#e8922e" stroke-width="6" fill="none" stroke-linejoin="round" stroke-linecap="round"/><path d="M865 500 L866 520 L868 540 L873 570 L880 600 L876 620 L888 640" stroke="#e8922e" stroke-width="6" fill="none" stroke-linejoin="round" stroke-linecap="round"/><path d="M940 520 L930 540 L925 550" stroke="#e8922e" stroke-width="6" fill="none" stroke-linejoin="round" stroke-linecap="round"/><path d="M720 540 L735 548 L750 552" stroke="#e8922e" stroke-width="6" fill="none" stroke-linejoin="round" stroke-linecap="round"/><path d="M690 470 L705 478 L720 476" stroke="#e8922e" stroke-width="6" fill="none" stroke-linejoin="round" stroke-linecap="round"/><path d="M302 390 L335 430 L347 432 L360 430" stroke="#f9a43e" stroke-width="4.2" fill="none" stroke-linejoin="round" stroke-linecap="round"/><path d="M417 487 L442 493 L450 496 L465 494 L472 486 L485 460 L500 446" stroke="#f9a43e" stroke-width="4.2" fill="none" stroke-linejoin="round" stroke-linecap="round"/><path d="M429 390 L430 418 L428 430 L420 446 L414 452" stroke="#f9a43e" stroke-width="4.2" fill="none" stroke-linejoin="round" stroke-linecap="round"/><path d="M468 390 L468 412 L464 418 L459 425 L457 442 L450 460 L438 483" stroke="#f9a43e" stroke-width="4.2" fill="none" stroke-linejoin="round" stroke-linecap="round"/><path d="M464 418 L470 421 L484 432 L500 434 L512 432" stroke="#f9a43e" stroke-width="4.2" fill="none" stroke-linejoin="round" stroke-linecap="round"/><path d="M280 484 L290 500 L300 506 L313 520 L322 526" stroke="#f9a43e" stroke-width="4.2" fill="none" stroke-linejoin="round" stroke-linecap="round"/><path d="M465 494 L500 480" stroke="#f9a43e" stroke-width="4.2" fill="none" stroke-linejoin="round" stroke-linecap="round"/><path d="M476 508 L500 503" stroke="#f9a43e" stroke-width="4.2" fill="none" stroke-linejoin="round" stroke-linecap="round"/><path d="M300 539 L315 530 L323 527 L350 527 L375 533 L390 530 L400 523 L415 525 L425 531 L445 529 L455 520 L465 510 L476 500" stroke="#f9a43e" stroke-width="4.2" fill="none" stroke-linejoin="round" stroke-linecap="round"/><path d="M308 510 L322 525" stroke="#f9a43e" stroke-width="4.2" fill="none" stroke-linejoin="round" stroke-linecap="round"/><path d="M425 535 L418 558 L425 566" stroke="#f9a43e" stroke-width="4.2" fill="none" stroke-linejoin="round" stroke-linecap="round"/><path d="M450 530 L430 566 L415 588 L410 596" stroke="#f9a43e" stroke-width="4.2" fill="none" stroke-linejoin="round" stroke-linecap="round"/><path d="M375 535 L360 550 L355 560 L350 575 L348 590 L344 600 L336 616 L330 640" stroke="#f9a43e" stroke-width="4.2" fill="none" stroke-linejoin="round" stroke-linecap="round"/><path d="M390 596 L410 594 L428 590" stroke="#f9a43e" stroke-width="4.2" fill="none" stroke-linejoin="round" stroke-linecap="round"/><path d="M450 530 L470 540 L480 542" stroke="#f9a43e" stroke-width="4.2" fill="none" stroke-linejoin="round" stroke-linecap="round"/><path d="M500 438 L515 430 L535 418 L544 406 L547 390" stroke="#f9a43e" stroke-width="4.2" fill="none" stroke-linejoin="round" stroke-linecap="round"/><path d="M500 473 L510 467 L520 455 L518 446 L510 440" stroke="#f9a43e" stroke-width="4.2" fill="none" stroke-linejoin="round" stroke-linecap="round"/><path d="M500 500 L515 501 L527 508 L540 510" stroke="#f9a43e" stroke-width="4.2" fill="none" stroke-linejoin="round" stroke-linecap="round"/><path d="M500 452 L508 446" stroke="#f9a43e" stroke-width="4.2" fill="none" stroke-linejoin="round" stroke-linecap="round"/><path d="M595 390 L600 402 L596 412 L604 420 L610 415" stroke="#f9a43e" stroke-width="4.2" fill="none" stroke-linejoin="round" stroke-linecap="round"/><path d="M606 390 L612 400 L610 415 L640 418 L675 417 L695 420 L710 430 L710 446 L720 452 L736 466 L745 480 L742 500 L750 512" stroke="#f9a43e" stroke-width="4.2" fill="none" stroke-linejoin="round" stroke-linecap="round"/><path d="M614 390 L622 402 L640 408 L660 405 L680 410" stroke="#f9a43e" stroke-width="4.2" fill="none" stroke-linejoin="round" stroke-linecap="round"/><path d="M620 438 L640 423 L648 418" stroke="#f9a43e" stroke-width="4.2" fill="none" stroke-linejoin="round" stroke-linecap="round"/><path d="M675 417 L680 435 L687 450 L685 465 L670 480 L675 495 L680 520 L685 523 L695 545 L705 565 L700 580 L710 590" stroke="#f9a43e" stroke-width="4.2" fill="none" stroke-linejoin="round" stroke-linecap="round"/><path d="M610 462 L620 469 L635 473 L648 470 L660 475 L670 482" stroke="#f9a43e" stroke-width="4.2" fill="none" stroke-linejoin="round" stroke-linecap="round"/><path d="M580 493 L590 500 L610 501 L640 502 L670 498 L700 500 L720 498 L745 490 L760 477 L785 473" stroke="#f9a43e" stroke-width="4.2" fill="none" stroke-linejoin="round" stroke-linecap="round"/><path d="M577 494 L579 505 L576 518 L580 528" stroke="#f9a43e" stroke-width="4.2" fill="none" stroke-linejoin="round" stroke-linecap="round"/><path d="M640 510 L670 503" stroke="#f9a43e" stroke-width="4.2" fill="none" stroke-linejoin="round" stroke-linecap="round"/><path d="M547 528 L550 540 L560 560 L559 574 L545 595 L533 598 L528 612 L520 640" stroke="#f9a43e" stroke-width="4.2" fill="none" stroke-linejoin="round" stroke-linecap="round"/><path d="M560 530 L566 536 L562 545 L559 557" stroke="#f9a43e" stroke-width="4.2" fill="none" stroke-linejoin="round" stroke-linecap="round"/><path d="M570 540 L585 544 L588 538 L580 530" stroke="#f9a43e" stroke-width="4.2" fill="none" stroke-linejoin="round" stroke-linecap="round"/><path d="M633 560 L640 548 L655 536 L670 530 L680 523 L700 520 L720 518 L740 512 L755 510" stroke="#f9a43e" stroke-width="4.2" fill="none" stroke-linejoin="round" stroke-linecap="round"/><path d="M650 590 L665 580 L680 575 L710 574 L735 572 L748 570 L757 550 L755 525 L760 510 L757 496" stroke="#f9a43e" stroke-width="4.2" fill="none" stroke-linejoin="round" stroke-linecap="round"/><path d="M690 390 L700 400 L712 404 L720 415 L722 430" stroke="#f9a43e" stroke-width="4.2" fill="none" stroke-linejoin="round" stroke-linecap="round"/><path d="M720 454 L730 468 L745 480" stroke="#f9a43e" stroke-width="4.2" fill="none" stroke-linejoin="round" stroke-linecap="round"/><path d="M720 498 L740 503 L760 500" stroke="#f9a43e" stroke-width="4.2" fill="none" stroke-linejoin="round" stroke-linecap="round"/><path d="M770 482 L785 477 L800 470" stroke="#f9a43e" stroke-width="4.2" fill="none" stroke-linejoin="round" stroke-linecap="round"/><path d="M825 458 L840 458 L845 462 L860 458 L870 461 L895 456 L910 450 L940 442" stroke="#f9a43e" stroke-width="4.2" fill="none" stroke-linejoin="round" stroke-linecap="round"/><path d="M830 462 L832 480 L838 485 L855 480 L890 465 L910 450" stroke="#f9a43e" stroke-width="4.2" fill="none" stroke-linejoin="round" stroke-linecap="round"/><path d="M838 485 L843 500 L860 504 L868 512" stroke="#f9a43e" stroke-width="4.2" fill="none" stroke-linejoin="round" stroke-linecap="round"/><path d="M930 420 L930 434 L933 445 L940 460" stroke="#f9a43e" stroke-width="4.2" fill="none" stroke-linejoin="round" stroke-linecap="round"/><path d="M885 485 L890 500 L895 520 L905 535 L913 560 L915 590 L920 600 L926 620 L920 640" stroke="#f9a43e" stroke-width="4.2" fill="none" stroke-linejoin="round" stroke-linecap="round"/><path d="M755 550 L765 552 L775 560 L785 556 L815 555 L825 548 L845 555 L860 547 L885 549 L900 538 L910 540 L940 534" stroke="#f9a43e" stroke-width="4.2" fill="none" stroke-linejoin="round" stroke-linecap="round"/><path d="M865 500 L866 520 L868 540 L873 570 L880 600 L876 620 L888 640" stroke="#f9a43e" stroke-width="4.2" fill="none" stroke-linejoin="round" stroke-linecap="round"/><path d="M940 520 L930 540 L925 550" stroke="#f9a43e" stroke-width="4.2" fill="none" stroke-linejoin="round" stroke-linecap="round"/><path d="M720 540 L735 548 L750 552" stroke="#f9a43e" stroke-width="4.2" fill="none" stroke-linejoin="round" stroke-linecap="round"/><path d="M690 470 L705 478 L720 476" stroke="#f9a43e" stroke-width="4.2" fill="none" stroke-linejoin="round" stroke-linecap="round"/><text x="272" y="394" style="font-size:24px;letter-spacing:0.3px;" fill="#222" stroke="#fff" stroke-opacity="0.75" stroke-width="4.5" paint-order="stroke" stroke-linejoin="round" text-anchor="start" opacity="1">eny</text><text x="403" y="396" style="font-size:26px;letter-spacing:0.3px;" fill="#222" stroke="#fff" stroke-opacity="0.75" stroke-width="4.5" paint-order="stroke" stroke-linejoin="round" text-anchor="start" opacity="1">Clifton</text><text x="358.5" y="438.6" style="font-size:22.8px;letter-spacing:0.4px;" fill="#222" stroke="#fff" stroke-opacity="0.75" stroke-width="4.5" paint-order="stroke" stroke-linejoin="round" text-anchor="start" opacity="1">West</text><text x="338" y="467" style="font-size:24px;letter-spacing:0.3px;" fill="#222" stroke="#fff" stroke-opacity="0.75" stroke-width="4.5" paint-order="stroke" stroke-linejoin="round" text-anchor="start" opacity="1">Orange</text><text x="272.5" y="500" style="font-size:22.8px;letter-spacing:0.4px;" fill="#222" stroke="#fff" stroke-opacity="0.75" stroke-width="4.5" paint-order="stroke" stroke-linejoin="round" text-anchor="start" opacity="1">Short</text><text x="381" y="518" style="font-size:28.5px;letter-spacing:0.5px;" fill="#222" stroke="#fff" stroke-opacity="0.75" stroke-width="4.5" paint-order="stroke" stroke-linejoin="round" text-anchor="start" opacity="1">Newark</text><text x="353.5" y="582" style="font-size:25px;letter-spacing:0.3px;" fill="#222" stroke="#fff" stroke-opacity="0.75" stroke-width="4.5" paint-order="stroke" stroke-linejoin="round" text-anchor="start" opacity="1">Elizabeth</text><text x="280" y="611" style="font-size:23px;letter-spacing:0.3px;" fill="#222" stroke="#fff" stroke-opacity="0.75" stroke-width="4.5" paint-order="stroke" stroke-linejoin="round" text-anchor="start" opacity="1">e’d</text><text x="411" y="648" style="font-size:26px;letter-spacing:0.3px;" fill="#222" stroke="#fff" stroke-opacity="0.75" stroke-width="4.5" paint-order="stroke" stroke-linejoin="round" text-anchor="start" opacity="1">Staten</text><text x="622" y="408.5" style="font-size:26px;letter-spacing:0.5px;" fill="#222" stroke="#fff" stroke-opacity="0.75" stroke-width="4.5" paint-order="stroke" stroke-linejoin="round" text-anchor="start" opacity="1">Bronx</text><text x="516.5" y="462" style="font-size:28.5px;letter-spacing:0.9px;" fill="#222" stroke="#fff" stroke-opacity="0.75" stroke-width="4.5" paint-order="stroke" stroke-linejoin="round" text-anchor="start" opacity="1">Manhattan</text><text x="582.5" y="496.5" style="font-size:20.5px;letter-spacing:0.3px;" fill="#222" stroke="#fff" stroke-opacity="0.75" stroke-width="4.5" paint-order="stroke" stroke-linejoin="round" text-anchor="start" opacity="1">Woodside</text><text x="692" y="490" style="font-size:21.5px;letter-spacing:0.5px;" fill="#222" stroke="#fff" stroke-opacity="0.75" stroke-width="4.5" paint-order="stroke" stroke-linejoin="round" text-anchor="start" opacity="1">Bayside</text><text x="491.5" y="536.5" style="font-size:27.5px;font-weight:bold;letter-spacing:0.6px;" fill="#222" stroke="#fff" stroke-opacity="0.75" stroke-width="4.5" paint-order="stroke" stroke-linejoin="round" text-anchor="start" opacity="1">New York</text><text x="667.5" y="545" style="font-size:24.5px;letter-spacing:0.8px;" fill="#222" stroke="#fff" stroke-opacity="0.75" stroke-width="4.5" paint-order="stroke" stroke-linejoin="round" text-anchor="start" opacity="1">Jamaica</text><text x="853.5" y="481" style="font-size:23.5px;letter-spacing:0.7px;" fill="#222" stroke="#fff" stroke-opacity="0.75" stroke-width="4.5" paint-order="stroke" stroke-linejoin="round" text-anchor="start" opacity="1">Hicksville</text><text x="861" y="523" style="font-size:23.5px;letter-spacing:0.9px;" fill="#222" stroke="#fff" stroke-opacity="0.75" stroke-width="4.5" paint-order="stroke" stroke-linejoin="round" text-anchor="start" opacity="1">Levittown</text><text x="818.5" y="587.5" style="font-size:22.5px;letter-spacing:0.4px;" fill="#222" stroke="#fff" stroke-opacity="0.75" stroke-width="4.5" paint-order="stroke" stroke-linejoin="round" text-anchor="start" opacity="1">Freeport</text><text x="773" y="392.5" style="font-size:26px;letter-spacing:0.8px;" fill="#222" stroke="#fff" stroke-opacity="0.75" stroke-width="4.5" paint-order="stroke" stroke-linejoin="round" text-anchor="start" opacity="1">Glen Cove</text><text x="925" y="423" style="font-size:24px;letter-spacing:0.3px;" fill="#222" stroke="#fff" stroke-opacity="0.75" stroke-width="4.5" paint-order="stroke" stroke-linejoin="round" text-anchor="start" opacity="1">ss</text><text x="562" y="579" style="font-size:20.5px;font-style:italic;letter-spacing:0.85px;" fill="#1f4d17" stroke="#fff" stroke-opacity="0.75" stroke-width="3" paint-order="stroke" stroke-linejoin="round" text-anchor="start" opacity="1">Gateway National</text><text x="571" y="603" style="font-size:20.5px;font-style:italic;letter-spacing:0.75px;" fill="#1f4d17" stroke="#fff" stroke-opacity="0.75" stroke-width="3" paint-order="stroke" stroke-linejoin="round" text-anchor="start" opacity="1">Recreation Area</text><text x="676" y="647" style="font-size:23px;letter-spacing:0.3px;" fill="#222" stroke="#fff" stroke-opacity="0.75" stroke-width="4.5" paint-order="stroke" stroke-linejoin="round" text-anchor="start" opacity="1">Far Rockaway</text><g transform="translate(783 447.5)"><path d="M0 5.5 Q3.4 0.7 8.4 2.6 Q14.7 -0.7 21.0 1.9 Q27.3 -0.7 33.6 2.6 Q38.6 0.7 42 5.5 V6.5 H0Z" fill="#d9535d"/><rect x="0" y="6.3" width="42" height="2.4" fill="#fff"/><path d="M0 8.8 H42 Q42.8 22.8 21.0 32.5 Q-0.8 22.8 0 8.8Z" fill="#3f7cc9"/><text x="21.0" y="24.1" font-size="17.5" font-weight="bold" fill="#fff" text-anchor="middle">495</text></g><g transform="translate(258.5 532.5)"><path d="M0 5.4 Q3.3 0.6 8.3 2.5 Q14.5 -0.6 20.8 1.9 Q27.0 -0.6 33.2 2.5 Q38.2 0.6 41.5 5.4 V6.3 H0Z" fill="#d9535d"/><rect x="0" y="6.1" width="41.5" height="2.4" fill="#fff"/><path d="M0 8.5 H41.5 Q42.3 22.0 20.8 31.5 Q-0.8 22.0 0 8.5Z" fill="#3f7cc9"/><text x="20.8" y="23.3" font-size="17.5" font-weight="bold" fill="#fff" text-anchor="middle">278</text></g><rect x="921" y="550" width="40" height="27" rx="13.5" fill="#fff" stroke="#222" stroke-width="1.6"/><text x="928" y="571" font-size="20" fill="#111">27</text><use href="#pin" x="581" y="481"/><use href="#pin" x="559" y="486.5"/><use href="#pin" x="596" y="495"/><use href="#pin" x="548" y="528"/><use href="#pin" x="620" y="574"/><use href="#pin" x="490" y="608"/><rect x="352" y="574" width="32.5" height="70" rx="3" fill="#fff" filter="url(#mb)" stroke="#bbb" stroke-opacity="0.5" stroke-width="0.8"/><path d="M360 590H376M368 582V598" stroke="#777" stroke-width="3.4"/><rect x="320" y="600" width="620" height="40" fill="#fff" fill-opacity="0.72"/><text x="291.5" y="624.5" font-size="45.5" fill="#fff" style="font-family:'Liberation Serif',serif;letter-spacing:-0.3px" stroke="#777" stroke-opacity="0.2" stroke-width="1.5" paint-order="stroke">Google</text><path d="M430 604V625" stroke="#e0a060" stroke-opacity="0.6" stroke-width="1.2"/><path d="M603 609V640" stroke="#bbb" stroke-width="1" stroke-dasharray="2 1.5"/><path d="M742 609V640" stroke="#ddd" stroke-opacity="0.7" stroke-width="1"/><text x="332" y="625.3" style="font-size:19.4px;letter-spacing:0.35px" fill="#444">Map Data</text><text x="444.5" y="625.3" style="font-size:19.4px;letter-spacing:0.35px" fill="#444">10 km</text><text x="615" y="625.3" style="font-size:19.4px;letter-spacing:0.35px" fill="#444">Terms of Use</text><text x="759.5" y="625.3" style="font-size:19.4px;letter-spacing:0.35px" fill="#444">Report a map error</text><path d="M508 614V623H586V614" fill="none" stroke="#fff" stroke-width="7.4"/><path d="M508 614.5V623H586V614.5" fill="none" stroke="#666" stroke-width="4"/><circle cx="368" cy="477.5" r="50" fill="#fff" filter="url(#mb)"/><circle cx="368" cy="477.5" r="50.4" fill="none" stroke="#999" stroke-opacity="0.35" stroke-width="1.2"/><g fill="none" stroke="#838383" stroke-width="5.2"><path d="M358.5 452.5L368 443.5L377.5 452.5"/><path d="M358.5 502.5L368 511.5L377.5 502.5"/><path d="M342.5 468L333.5 477.5L342.5 487"/><path d="M393.5 468L402.5 477.5L393.5 487"/></g><rect x="746" y="402" width="182" height="43.5" rx="3" fill="#000" fill-opacity="0.28" filter="url(#mb)" transform="translate(0 1.6)"/><rect x="746" y="402" width="182" height="43.5" rx="3" fill="#fff"/><path d="M818.7 402V445.5" stroke="#bbb" stroke-width="1.4"/><path d="M817.3 402V445.5" stroke="#eee" stroke-width="1.4"/><text x="760.3" y="431.6" style="font-size:20.7px;font-weight:bold" fill="#000">Map</text><text x="834.3" y="431.6" style="font-size:20.7px;letter-spacing:0.55px" fill="#565656">Satellite</text></svg>
<div class="card" style="position:absolute;left:261.00px;top:745.00px;width:838.00px;height:390.00px;background:#fff;overflow:hidden;"><svg class="rh" style="left:813.40px;top:370.40px" width="15.2" height="14.8" viewBox="0 0 16 16"><path d="M16 0V11L11.3 16H0Z" fill="url(#hatch)"/></svg></div>
<div class="t " style="top:771px;font-size:28px;left:282.00px;font-weight:bold;">Expenses by Branch</div>
<svg style="position:absolute;left:282.00px;top:819.50px" width="24" height="24" viewBox="0 0 24 24"><circle cx="12" cy="12" r="10.4" fill="none" stroke="#333" stroke-width="3"/><path d="M12 5.5V13H18" fill="none" stroke="#333" stroke-width="3"/></svg>
<div class="t " style="top:822px;font-size:24px;left:311.80px;-webkit-text-stroke:0.3px #333;">Sep 2012 - Aug 2013</div>
<div class="card" style="position:absolute;left:1125.00px;top:741.00px;width:600.00px;height:394.00px;background:#fff;overflow:hidden;"><svg class="rh" style="left:575.40px;top:379.50px" width="15.2" height="14.8" viewBox="0 0 16 16"><path d="M16 0V11L11.3 16H0Z" fill="url(#hatch)"/></svg></div>
<div class="t " style="top:767px;font-size:28px;left:1145.80px;font-weight:bold;">Expense Types</div>
<svg style="position:absolute;left:1145.80px;top:815.50px" width="24" height="24" viewBox="0 0 24 24"><circle cx="12" cy="12" r="10.4" fill="none" stroke="#333" stroke-width="3"/><path d="M12 5.5V13H18" fill="none" stroke="#333" stroke-width="3"/></svg>
<div class="t " style="top:818px;font-size:24px;left:1176.00px;-webkit-text-stroke:0.3px #333;">Jan 2013 - Aug 2014</div>
<div class="card" style="position:absolute;left:1754.00px;top:742.30px;width:320.00px;height:171.40px;background:#fff;overflow:hidden;"><svg class="rh" style="left:297.20px;top:142.90px" width="15.2" height="14.8" viewBox="0 0 16 16"><path d="M16 0V11L11.3 16H0Z" fill="url(#hatch)"/></svg></div>
<div class="t " style="top:768px;font-size:28px;left:1770.90px;font-weight:bold;">Budget this month</div>
<div class="card" style="position:absolute;left:1754.00px;top:963.00px;width:320.00px;height:172.00px;background:#fff;overflow:hidden;"><svg class="rh" style="left:297.20px;top:143.60px" width="15.2" height="14.8" viewBox="0 0 16 16"><path d="M16 0V11L11.3 16H0Z" fill="url(#hatch)"/></svg></div>
<div class="t " style="top:990px;font-size:28px;left:1778.60px;font-weight:bold;">% of target achieved</div>
<div class="" style="position:absolute;left:281.00px;top:859.20px;width:797.00px;height:54.70px;background:#dedede;"></div>
<div class="" style="position:absolute;left:281.00px;top:913.90px;width:797.00px;height:200.50px;background:#fff;"></div>
<div class="" style="position:absolute;left:281.00px;top:962.00px;width:797.00px;height:1.90px;background:#dcdcdc;"></div>
<div class="" style="position:absolute;left:281.00px;top:1012.30px;width:797.00px;height:1.90px;background:#dcdcdc;"></div>
<div class="" style="position:absolute;left:281.00px;top:1062.30px;width:797.00px;height:1.90px;background:#dcdcdc;"></div>
<div class="" style="position:absolute;left:281.00px;top:1112.50px;width:797.00px;height:1.90px;background:#dcdcdc;"></div>
<div class="" style="position:absolute;left:282.90px;top:912.00px;width:1.90px;height:202.40px;background:#dcdcdc;"></div>
<div class="" style="position:absolute;left:475.30px;top:912.00px;width:1.90px;height:202.40px;background:#dcdcdc;"></div>
<div class="" style="position:absolute;left:655.50px;top:912.00px;width:1.90px;height:202.40px;background:#dcdcdc;"></div>
<div class="" style="position:absolute;left:805.50px;top:912.00px;width:1.90px;height:202.40px;background:#dcdcdc;"></div>
<div class="" style="position:absolute;left:941.30px;top:912.00px;width:1.90px;height:202.40px;background:#dcdcdc;"></div>
<div class="" style="position:absolute;left:1076.10px;top:912.00px;width:1.90px;height:202.40px;background:#dcdcdc;"></div>
<div class="" style="position:absolute;left:281.00px;top:1112.50px;width:797.00px;height:2.30px;background:#bdbdbd;"></div>
<div class="" style="position:absolute;left:281.00px;top:859.20px;width:797.00px;height:2.30px;background:#b6b6b6;"></div>
<div class="" style="position:absolute;left:281.00px;top:912.00px;width:797.00px;height:2.20px;background:#b0b0b0;"></div>
<div class="" style="position:absolute;left:282.90px;top:859.20px;width:1.90px;height:52.80px;background:#b6b6b6;"></div>
<div class="" style="position:absolute;left:475.30px;top:859.20px;width:1.90px;height:52.80px;background:#b6b6b6;"></div>
<div class="" style="position:absolute;left:655.50px;top:859.20px;width:1.90px;height:52.80px;background:#b6b6b6;"></div>
<div class="" style="position:absolute;left:805.50px;top:859.20px;width:1.90px;height:52.80px;background:#b6b6b6;"></div>
<div class="" style="position:absolute;left:941.30px;top:859.20px;width:1.90px;height:52.80px;background:#b6b6b6;"></div>
<div class="" style="position:absolute;left:1076.10px;top:859.20px;width:1.90px;height:52.80px;background:#b6b6b6;"></div>
<div class="" style="position:absolute;left:281.00px;top:859.20px;width:1.90px;height:54.70px;background:#c6c6c6;"></div>
<div class="" style="position:absolute;left:281.00px;top:914.20px;width:1.90px;height:198.30px;background:#fff;"></div>
<div class="" style="position:absolute;left:281.00px;top:962.00px;width:1.90px;height:1.90px;background:#dcdcdc;"></div>
<div class="" style="position:absolute;left:281.00px;top:1012.30px;width:1.90px;height:1.90px;background:#dcdcdc;"></div>
<div class="" style="position:absolute;left:281.00px;top:1062.30px;width:1.90px;height:1.90px;background:#dcdcdc;"></div>
<div class="" style="position:absolute;left:1077.40px;top:859.20px;width:1.20px;height:255.20px;background:#c6c6c6;"></div>
<div class="t " style="top:875px;font-size:24px;left:295.40px;font-weight:bold;">Name</div>
<div class="t " style="top:875px;font-size:24px;right:1699.00px;font-weight:bold;">Total Amount</div>
<div class="t " style="top:878px;font-size:24px;left:230.50px;width:1000px;text-align:center;font-weight:bold;">NY</div>
<div class="t " style="top:878px;font-size:24px;left:369.00px;width:1000px;text-align:center;font-weight:bold;">CA</div>
<div class="t " style="top:878px;font-size:24px;left:503.50px;width:1000px;text-align:center;font-weight:bold;">FL</div>
<div class="t " style="top:926px;font-size:24px;left:295.40px;-webkit-text-stroke:0.3px #333;letter-spacing:-0.25px;">Vehicles</div>
<div class="t " style="top:926px;font-size:24px;right:1699.40px;-webkit-text-stroke:0.3px #333;letter-spacing:0.1px;">99,324.37</div>
<div class="t " style="top:926px;font-size:24px;right:1549.50px;-webkit-text-stroke:0.3px #333;letter-spacing:0.1px;">42,780.89</div>
<div class="t " style="top:926px;font-size:24px;right:1413.80px;-webkit-text-stroke:0.3px #333;letter-spacing:0.1px;">30,133.44</div>
<div class="t " style="top:926px;font-size:24px;right:1277.40px;-webkit-text-stroke:0.3px #333;letter-spacing:0.1px;">26,410.04</div>
<div class="t " style="top:976px;font-size:24px;left:295.40px;-webkit-text-stroke:0.3px #333;letter-spacing:-0.25px;">Stationery</div>
<div class="t " style="top:976px;font-size:24px;right:1699.40px;-webkit-text-stroke:0.3px #333;letter-spacing:0.1px;">41,285.04</div>
<div class="t " style="top:976px;font-size:24px;right:1549.50px;-webkit-text-stroke:0.3px #333;letter-spacing:0.1px;">39,511.86</div>
<div class="t " style="top:976px;font-size:24px;right:1413.80px;-webkit-text-stroke:0.3px #333;letter-spacing:0.1px;">594.92</div>
<div class="t " style="top:976px;font-size:24px;right:1277.40px;-webkit-text-stroke:0.3px #333;letter-spacing:0.1px;">1,178.26</div>
<div class="t " style="top:1026px;font-size:24px;left:295.40px;-webkit-text-stroke:0.3px #333;letter-spacing:-0.25px;">Staff Expenses</div>
<div class="t " style="top:1026px;font-size:24px;right:1699.40px;-webkit-text-stroke:0.3px #333;letter-spacing:0.1px;">49,940.84</div>
<div class="t " style="top:1026px;font-size:24px;right:1549.50px;-webkit-text-stroke:0.3px #333;letter-spacing:0.1px;">22,390.99</div>
<div class="t " style="top:1026px;font-size:24px;right:1413.80px;-webkit-text-stroke:0.3px #333;letter-spacing:0.1px;">22,778.83</div>
<div class="t " style="top:1026px;font-size:24px;right:1277.40px;-webkit-text-stroke:0.3px #333;letter-spacing:0.1px;">4,771.02</div>
<div class="t " style="top:1076px;font-size:24px;left:295.40px;-webkit-text-stroke:0.3px #333;letter-spacing:-0.25px;">Energy Costs</div>
<div class="t " style="top:1076px;font-size:24px;right:1699.40px;-webkit-text-stroke:0.3px #333;letter-spacing:0.1px;">27,352.48</div>
<div class="t " style="top:1076px;font-size:24px;right:1549.50px;-webkit-text-stroke:0.3px #333;letter-spacing:0.1px;">12,903.21</div>
<div class="t " style="top:1076px;font-size:24px;right:1413.80px;-webkit-text-stroke:0.3px #333;letter-spacing:0.1px;">8,574.85</div>
<div class="t " style="top:1076px;font-size:24px;right:1277.40px;-webkit-text-stroke:0.3px #333;letter-spacing:0.1px;">5,874.42</div>
<svg style="position:absolute;left:1240px;top:840px" width="300" height="290" viewBox="1240 840 300 290"><path d="M1386.9 981 L1386.90 847.70 A133.3 133.3 0 0 1 1417.61 851.29 Z" fill="#3768c9" stroke="#fff" stroke-width="1.9" stroke-linejoin="round"/><path d="M1386.9 981 L1417.61 851.29 A133.3 133.3 0 0 1 1510.21 930.38 Z" fill="#dc3a1c" stroke="#fff" stroke-width="1.9" stroke-linejoin="round"/><path d="M1386.9 981 L1510.21 930.38 A133.3 133.3 0 0 1 1519.20 964.71 Z" fill="#fe9a25" stroke="#fff" stroke-width="1.9" stroke-linejoin="round"/><path d="M1386.9 981 L1519.20 964.71 A133.3 133.3 0 0 1 1520.17 978.07 Z" fill="#18931f" stroke="#fff" stroke-width="1.9" stroke-linejoin="round"/><path d="M1386.9 981 L1520.17 978.07 A133.3 133.3 0 0 1 1519.04 998.54 Z" fill="#941498" stroke="#fff" stroke-width="1.9" stroke-linejoin="round"/><path d="M1386.9 981 L1519.04 998.54 A133.3 133.3 0 0 1 1481.16 1075.26 Z" fill="#1798c6" stroke="#fff" stroke-width="1.9" stroke-linejoin="round"/><path d="M1386.9 981 L1481.16 1075.26 A133.3 133.3 0 0 1 1422.48 1109.46 Z" fill="#dc467a" stroke="#fff" stroke-width="1.9" stroke-linejoin="round"/><path d="M1386.9 981 L1422.48 1109.46 A133.3 133.3 0 1 1 1386.90 847.70 Z" fill="#68a81a" stroke="#fff" stroke-width="1.9" stroke-linejoin="round"/><text x="1442.5" y="923.5" font-size="19.5" fill="#fff" text-anchor="middle">15.1%</text><text x="1302.6" y="1000" font-size="19.5" fill="#fff" text-anchor="middle">54.3%</text></svg>
<div class="" style="position:absolute;left:1560.80px;top:845.40px;width:20.20px;height:20.20px;background:#3768c9;"></div>
<div class="t " style="top:846px;font-size:19.7px;left:1589.00px;-webkit-text-stroke:0.3px #222;color:#222;">Cleaning</div>
<div class="" style="position:absolute;left:1560.80px;top:877.20px;width:20.20px;height:20.20px;background:#dc3a1c;"></div>
<div class="t " style="top:878px;font-size:19.7px;left:1589.00px;-webkit-text-stroke:0.3px #222;color:#222;">Energy</div>
<div class="" style="position:absolute;left:1560.80px;top:935.00px;width:20.20px;height:20.20px;background:#fe9a25;"></div>
<div class="t " style="top:936px;font-size:19.7px;left:1589.00px;-webkit-text-stroke:0.3px #222;color:#222;">Industrial ...</div>
<div class="" style="position:absolute;left:1560.80px;top:967.00px;width:20.20px;height:20.20px;background:#18931f;"></div>
<div class="t " style="top:968px;font-size:19.7px;left:1589.00px;-webkit-text-stroke:0.3px #222;color:#222;">Marketing, ...</div>
<div class="" style="position:absolute;left:1560.80px;top:999.00px;width:20.20px;height:20.20px;background:#941498;"></div>
<div class="t " style="top:1000px;font-size:19.7px;left:1589.00px;-webkit-text-stroke:0.3px #222;color:#222;">Others</div>
<div class="" style="position:absolute;left:1560.80px;top:1031.00px;width:20.20px;height:20.20px;background:#1798c6;"></div>
<div class="t " style="top:1032px;font-size:19.7px;left:1589.00px;-webkit-text-stroke:0.3px #222;color:#222;">Staff Expe...</div>
<div class="" style="position:absolute;left:1560.80px;top:1063.00px;width:20.20px;height:20.20px;background:#dc467a;"></div>
<div class="t " style="top:1064px;font-size:19.7px;left:1589.00px;-webkit-text-stroke:0.3px #222;color:#222;">Stationery</div>
<div class="" style="position:absolute;left:1560.80px;top:1095.00px;width:20.20px;height:20.20px;background:#68a81a;"></div>
<div class="t " style="top:1096px;font-size:19.7px;left:1589.00px;-webkit-text-stroke:0.3px #222;color:#222;">Vehicles</div>
<div class="t " style="top:904px;font-size:19.7px;left:1589.00px;-webkit-text-stroke:0.3px #222;color:#222;">Costs</div>
<div class="t " style="top:820px;font-size:59.5px;left:1765.00px;font-weight:bold;color:#1daaeb;letter-spacing:0.55px;">$4,547,900</div>
<div class="" style="position:absolute;left:1772.00px;top:1041.00px;width:1.00px;height:66.00px;background:#e2e2e2;"></div>
<div class="t " style="top:1046px;font-size:60px;left:1770.50px;font-weight:bold;color:#fb9a2b;letter-spacing:1.5px;">91%</div>
<div class="card" style="position:absolute;left:265.00px;top:1209.00px;width:439.70px;height:391.70px;background:#fff;overflow:hidden;"><svg class="rh" style="left:415.60px;top:367.40px" width="15.2" height="14.8" viewBox="0 0 16 16"><path d="M16 0V11L11.3 16H0Z" fill="url(#hatch)"/></svg></div>
<div class="t " style="top:1235px;font-size:28px;left:285.00px;font-weight:bold;">Stock Value On Hand</div>
<svg style="position:absolute;left:285.00px;top:1308.00px" width="24" height="24" viewBox="0 0 24 24"><circle cx="12" cy="12" r="10.4" fill="none" stroke="#333" stroke-width="3"/><path d="M12 5.5V13H18" fill="none" stroke="#333" stroke-width="3"/></svg>
<div class="t " style="top:1310px;font-size:24px;left:316.00px;-webkit-text-stroke:0.3px #333;">Sep 2013 - Aug 2014</div>
<div class="card" style="position:absolute;left:724.70px;top:1208.80px;width:1360.10px;height:395.50px;background:#fff;overflow:hidden;"><svg class="rh" style="left:1335.60px;top:371.10px" width="15.2" height="14.8" viewBox="0 0 16 16"><path d="M16 0V11L11.3 16H0Z" fill="url(#hatch)"/></svg></div>
<div class="t " style="top:1358px;font-size:59.5px;left:283.00px;font-weight:bold;color:#1daaeb;">$6,945,511</div>
<div class="" style="position:absolute;left:737.30px;top:1215.30px;width:1336.70px;height:98.70px;background:#fafafa;"></div>
<div class="" style="position:absolute;left:737.80px;top:1233.30px;width:120.60px;height:59.20px;background:#ececec;border:1.4px solid #cfcfcf;border-bottom-color:#c0c0c0;color:#7a7a7a;border-radius:7.5px;box-sizing:border-box;box-shadow:0 1.5px 3px rgba(0,0,0,.09);"></div>
<div class="t " style="top:1251px;font-size:24px;left:764.00px;-webkit-text-stroke:0.3px #7a7a7a;color:#7a7a7a;letter-spacing:0.1px;">Delete</div>
<div class="" style="position:absolute;left:1246.90px;top:1233.30px;width:196.20px;height:59.20px;background:linear-gradient(#fbb55a,#f7931c);border:1.4px solid #e2902c;border-bottom-color:#b97a2b;color:#fff;text-shadow:0 -1px 0 rgba(0,0,0,.22);border-radius:7.5px;box-sizing:border-box;box-shadow:0 1.5px 3px rgba(0,0,0,.09);"></div>
<div class="t " style="top:1251px;font-size:24px;left:1272.80px;-webkit-text-stroke:0.3px #fff;color:#fff;letter-spacing:0.1px;text-shadow:0 -1px 0 rgba(0,0,0,.22);">This Month</div>
<svg style="position:absolute;left:1401.30px;top:1258.8px" width="15.6" height="8.7" viewBox="0 0 15.6 8.7"><path d="M0 0H15.6L7.8 8.7Z" fill="#fff"/></svg>
<div class="" style="position:absolute;left:1449.30px;top:1233.30px;width:123.20px;height:59.20px;background:linear-gradient(#fbb55a,#f7931c);border:1.4px solid #e2902c;border-bottom-color:#b97a2b;color:#fff;text-shadow:0 -1px 0 rgba(0,0,0,.22);border-radius:7.5px;box-sizing:border-box;box-shadow:0 1.5px 3px rgba(0,0,0,.09);"></div>
<div class="t " style="top:1251px;font-size:24px;left:1474.50px;-webkit-text-stroke:0.3px #fff;color:#fff;letter-spacing:0.1px;text-shadow:0 -1px 0 rgba(0,0,0,.22);">Task</div>
<svg style="position:absolute;left:1531.50px;top:1258.8px" width="15.6" height="8.7" viewBox="0 0 15.6 8.7"><path d="M0 0H15.6L7.8 8.7Z" fill="#fff"/></svg>
<div class="" style="position:absolute;left:1581.80px;top:1233.30px;width:142.50px;height:59.20px;background:linear-gradient(#fff,#e6e6e6);border:1.4px solid #cdcdcd;border-bottom-color:#b3b3b3;color:#333;border-radius:7.5px;box-sizing:border-box;box-shadow:0 1.5px 3px rgba(0,0,0,.09);"></div>
<div class="t " style="top:1251px;font-size:24px;left:1606.70px;-webkit-text-stroke:0.3px #333;letter-spacing:0.1px;">Status</div>
<svg style="position:absolute;left:1683.60px;top:1258.8px" width="15.6" height="8.7" viewBox="0 0 15.6 8.7"><path d="M0 0H15.6L7.8 8.7Z" fill="#111"/></svg>
<div class="" style="position:absolute;left:1731.50px;top:1233.30px;width:185.10px;height:59.20px;background:linear-gradient(#fff,#e6e6e6);border:1.4px solid #cdcdcd;border-bottom-color:#b3b3b3;color:#333;border-radius:7.5px;box-sizing:border-box;box-shadow:0 1.5px 3px rgba(0,0,0,.09);"></div>
<div class="t " style="top:1251px;font-size:24px;left:1757.60px;-webkit-text-stroke:0.3px #333;letter-spacing:0.1px;">Campaign</div>
<svg style="position:absolute;left:1875.20px;top:1258.8px" width="15.6" height="8.7" viewBox="0 0 15.6 8.7"><path d="M0 0H15.6L7.8 8.7Z" fill="#111"/></svg>
<div class="" style="position:absolute;left:1923.50px;top:1233.30px;width:144.70px;height:59.20px;background:linear-gradient(#fff,#e6e6e6);border:1.4px solid #cdcdcd;border-bottom-color:#b3b3b3;color:#333;border-radius:7.5px;box-sizing:border-box;box-shadow:0 1.5px 3px rgba(0,0,0,.09);"></div>
<div class="t " style="top:1251px;font-size:24px;left:1949.20px;-webkit-text-stroke:0.3px #333;letter-spacing:0.1px;">Owner</div>
<svg style="position:absolute;left:2027.80px;top:1258.8px" width="15.6" height="8.7" viewBox="0 0 15.6 8.7"><path d="M0 0H15.6L7.8 8.7Z" fill="#111"/></svg>
<div class="" style="position:absolute;left:737.00px;top:1312.80px;width:1336.00px;height:57.90px;background:#dedede;"></div>
<div class="" style="position:absolute;left:737.00px;top:1370.70px;width:1336.00px;height:200.70px;background:#fff;"></div>
<div class="" style="position:absolute;left:737.00px;top:1419.00px;width:1336.00px;height:1.90px;background:#dcdcdc;"></div>
<div class="" style="position:absolute;left:737.00px;top:1469.00px;width:1336.00px;height:1.90px;background:#dcdcdc;"></div>
<div class="" style="position:absolute;left:737.00px;top:1519.20px;width:1336.00px;height:1.90px;background:#dcdcdc;"></div>
<div class="" style="position:absolute;left:737.00px;top:1569.50px;width:1336.00px;height:1.90px;background:#dcdcdc;"></div>
<div class="" style="position:absolute;left:737.00px;top:1368.80px;width:1.90px;height:202.60px;background:#dcdcdc;"></div>
<div class="" style="position:absolute;left:787.00px;top:1368.80px;width:1.90px;height:202.60px;background:#dcdcdc;"></div>
<div class="" style="position:absolute;left:1187.00px;top:1368.80px;width:1.90px;height:202.60px;background:#dcdcdc;"></div>
<div class="" style="position:absolute;left:1427.50px;top:1368.80px;width:1.90px;height:202.60px;background:#dcdcdc;"></div>
<div class="" style="position:absolute;left:1681.20px;top:1368.80px;width:1.90px;height:202.60px;background:#dcdcdc;"></div>
<div class="" style="position:absolute;left:1829.50px;top:1368.80px;width:1.90px;height:202.60px;background:#dcdcdc;"></div>
<div class="" style="position:absolute;left:2071.10px;top:1368.80px;width:1.90px;height:202.60px;background:#dcdcdc;"></div>
<div class="" style="position:absolute;left:737.00px;top:1569.50px;width:1336.00px;height:2.30px;background:#bdbdbd;"></div>
<div class="" style="position:absolute;left:737.00px;top:1312.80px;width:1336.00px;height:2.30px;background:#b6b6b6;"></div>
<div class="" style="position:absolute;left:737.00px;top:1368.80px;width:1336.00px;height:2.20px;background:#b0b0b0;"></div>
<div class="" style="position:absolute;left:737.00px;top:1312.80px;width:1.90px;height:56.00px;background:#b6b6b6;"></div>
<div class="" style="position:absolute;left:787.00px;top:1312.80px;width:1.90px;height:56.00px;background:#b6b6b6;"></div>
<div class="" style="position:absolute;left:1187.00px;top:1312.80px;width:1.90px;height:56.00px;background:#b6b6b6;"></div>
<div class="" style="position:absolute;left:1427.50px;top:1312.80px;width:1.90px;height:56.00px;background:#b6b6b6;"></div>
<div class="" style="position:absolute;left:1681.20px;top:1312.80px;width:1.90px;height:56.00px;background:#b6b6b6;"></div>
<div class="" style="position:absolute;left:1829.50px;top:1312.80px;width:1.90px;height:56.00px;background:#b6b6b6;"></div>
<div class="" style="position:absolute;left:2071.10px;top:1312.80px;width:1.90px;height:56.00px;background:#b6b6b6;"></div>
<div class="" style="position:absolute;left:2072.40px;top:1312.80px;width:1.20px;height:258.60px;background:#c6c6c6;"></div>
<svg style="position:absolute;left:759.3px;top:1331.2px" width="17.7" height="19.5" viewBox="0 0 17.7 19.5"><path d="M17.7 0V19.5H0Z" fill="#000"/></svg>
<div class="t " style="top:1329px;font-size:24px;left:799.00px;font-weight:bold;">Subject</div>
<div class="t " style="top:1329px;font-size:24px;left:1199.00px;font-weight:bold;">Parent</div>
<div class="t " style="top:1332px;font-size:24px;left:1439.30px;font-weight:bold;">Status</div>
<svg style="position:absolute;left:1522px;top:1334px" width="16.2" height="8.6" viewBox="0 0 16.2 8.6"><path d="M0 0H16.2L8.1 8.6Z" fill="#222"/></svg>
<div class="t " style="top:1329px;font-size:24px;right:525.70px;font-weight:bold;">Date</div>
<div class="t " style="top:1329px;font-size:24px;left:1841.20px;font-weight:bold;">Owner</div>
<div class="t " style="top:1383px;font-size:24px;left:749.30px;-webkit-text-stroke:0.3px #222;color:#222;">1</div>
<svg style="position:absolute;left:801.30px;top:1380.50px" width="19" height="24" viewBox="0 0 19 24"><g fill="none" stroke="#1182c6" stroke-width="1.9"><path d="M5.5 4H1.2V22.8H17.4V4H13.3"/><path d="M4.8 9.2H14M4.8 12.9H14M4.8 16.6H14M4.8 20H14" stroke-width="1.7"/></g><path d="M5.3 6.4V3.2H7.2V1.2Q9.3 -0.4 11.4 1.2V3.2H13.4V6.4Z" fill="#1182c6"/><rect x="8.3" y="1.9" width="2.1" height="1.4" fill="#fff"/></svg>
<div class="t " style="top:1383px;font-size:24px;left:829.70px;-webkit-text-stroke:0.3px #1182c6;color:#1182c6;letter-spacing:0.17px;">Jason phone these</div>
<svg style="position:absolute;left:1199.00px;top:1380.50px" width="24.2" height="24" viewBox="0 0 24.2 24"><path d="M0 0H11.8V24H0Z M13.7 7.5H24V9H13.7Z M13.7 10.6H24V24H21V18H17V24H13.7Z" fill="#1182c6"/><rect x="1.90" y="2.60" width="2.8" height="2.8" fill="#fff"/><rect x="7.20" y="2.60" width="2.8" height="2.8" fill="#fff"/><rect x="1.90" y="8.70" width="2.8" height="2.8" fill="#fff"/><rect x="7.20" y="8.70" width="2.8" height="2.8" fill="#fff"/><rect x="1.90" y="14.80" width="2.8" height="2.8" fill="#fff"/><rect x="7.20" y="14.80" width="2.8" height="2.8" fill="#fff"/></svg>
<div class="t " style="top:1383px;font-size:24px;left:1230.60px;-webkit-text-stroke:0.3px #1182c6;color:#1182c6;letter-spacing:0px;">BHC Electrical</div>
<div class="t " style="top:1383px;font-size:24px;left:1439.30px;-webkit-text-stroke:0.3px #222;color:#222;letter-spacing:0px;">Waiting On Someone</div>
<div class="t " style="top:1383px;font-size:24px;right:525.70px;-webkit-text-stroke:0.3px #222;color:#222;letter-spacing:0.15px;">08/08/2014</div>
<div class="t " style="top:1383px;font-size:24px;left:1841.20px;-webkit-text-stroke:0.3px #222;color:#222;letter-spacing:-0.08px;">Jessica Brown</div>
<div class="t " style="top:1433px;font-size:24px;left:749.30px;-webkit-text-stroke:0.3px #222;color:#222;">2</div>
<svg style="position:absolute;left:801.30px;top:1430.50px" width="19" height="24" viewBox="0 0 19 24"><g fill="none" stroke="#1182c6" stroke-width="1.9"><path d="M5.5 4H1.2V22.8H17.4V4H13.3"/><path d="M4.8 9.2H14M4.8 12.9H14M4.8 16.6H14M4.8 20H14" stroke-width="1.7"/></g><path d="M5.3 6.4V3.2H7.2V1.2Q9.3 -0.4 11.4 1.2V3.2H13.4V6.4Z" fill="#1182c6"/><rect x="8.3" y="1.9" width="2.1" height="1.4" fill="#fff"/></svg>
<div class="t " style="top:1433px;font-size:24px;left:829.70px;-webkit-text-stroke:0.3px #1182c6;color:#1182c6;letter-spacing:0.17px;">Key Accounts</div>
<svg style="position:absolute;left:1199.00px;top:1430.50px" width="24.2" height="24" viewBox="0 0 24.2 24"><path d="M0 0H11.8V24H0Z M13.7 7.5H24V9H13.7Z M13.7 10.6H24V24H21V18H17V24H13.7Z" fill="#1182c6"/><rect x="1.90" y="2.60" width="2.8" height="2.8" fill="#fff"/><rect x="7.20" y="2.60" width="2.8" height="2.8" fill="#fff"/><rect x="1.90" y="8.70" width="2.8" height="2.8" fill="#fff"/><rect x="7.20" y="8.70" width="2.8" height="2.8" fill="#fff"/><rect x="1.90" y="14.80" width="2.8" height="2.8" fill="#fff"/><rect x="7.20" y="14.80" width="2.8" height="2.8" fill="#fff"/></svg>
<div class="t " style="top:1433px;font-size:24px;left:1230.60px;-webkit-text-stroke:0.3px #1182c6;color:#1182c6;letter-spacing:0px;">BHC Electrical</div>
<div class="t " style="top:1433px;font-size:24px;left:1439.30px;-webkit-text-stroke:0.3px #222;color:#222;letter-spacing:0px;">Overdue</div>
<div class="t " style="top:1433px;font-size:24px;right:525.70px;-webkit-text-stroke:0.3px #222;color:#222;letter-spacing:0.15px;">11/08/2014</div>
<div class="t " style="top:1433px;font-size:24px;left:1841.20px;-webkit-text-stroke:0.3px #222;color:#222;letter-spacing:-0.08px;">Elizabeth Labarbera</div>
<div class="t " style="top:1483px;font-size:24px;left:749.30px;-webkit-text-stroke:0.3px #222;color:#222;">3</div>
<svg style="position:absolute;left:801.30px;top:1480.60px" width="19" height="24" viewBox="0 0 19 24"><g fill="none" stroke="#1182c6" stroke-width="1.9"><path d="M5.5 4H1.2V22.8H17.4V4H13.3"/><path d="M4.8 9.2H14M4.8 12.9H14M4.8 16.6H14M4.8 20H14" stroke-width="1.7"/></g><path d="M5.3 6.4V3.2H7.2V1.2Q9.3 -0.4 11.4 1.2V3.2H13.4V6.4Z" fill="#1182c6"/><rect x="8.3" y="1.9" width="2.1" height="1.4" fill="#fff"/></svg>
<div class="t " style="top:1483px;font-size:24px;left:829.70px;-webkit-text-stroke:0.3px #1182c6;color:#1182c6;letter-spacing:0.17px;">Make them feel loved</div>
<svg style="position:absolute;left:1199.00px;top:1480.60px" width="24.2" height="24" viewBox="0 0 24.2 24"><path d="M0 0H11.8V24H0Z M13.7 7.5H24V9H13.7Z M13.7 10.6H24V24H21V18H17V24H13.7Z" fill="#1182c6"/><rect x="1.90" y="2.60" width="2.8" height="2.8" fill="#fff"/><rect x="7.20" y="2.60" width="2.8" height="2.8" fill="#fff"/><rect x="1.90" y="8.70" width="2.8" height="2.8" fill="#fff"/><rect x="7.20" y="8.70" width="2.8" height="2.8" fill="#fff"/><rect x="1.90" y="14.80" width="2.8" height="2.8" fill="#fff"/><rect x="7.20" y="14.80" width="2.8" height="2.8" fill="#fff"/></svg>
<div class="t " style="top:1483px;font-size:24px;left:1230.60px;-webkit-text-stroke:0.3px #1182c6;color:#1182c6;letter-spacing:0px;">Hellaby Hall Hotel</div>
<div class="t " style="top:1483px;font-size:24px;left:1439.30px;-webkit-text-stroke:0.3px #222;color:#222;letter-spacing:0px;">Not Started</div>
<div class="t " style="top:1483px;font-size:24px;right:525.70px;-webkit-text-stroke:0.3px #222;color:#222;letter-spacing:0.15px;">07/08/2014</div>
<div class="t " style="top:1483px;font-size:24px;left:1841.20px;-webkit-text-stroke:0.3px #222;color:#222;letter-spacing:-0.08px;">Paul Magee</div>
<div class="t " style="top:1533px;font-size:24px;left:749.30px;-webkit-text-stroke:0.3px #222;color:#222;">4</div>
<svg style="position:absolute;left:801.30px;top:1530.80px" width="19" height="24" viewBox="0 0 19 24"><g fill="none" stroke="#1182c6" stroke-width="1.9"><path d="M5.5 4H1.2V22.8H17.4V4H13.3"/><path d="M4.8 9.2H14M4.8 12.9H14M4.8 16.6H14M4.8 20H14" stroke-width="1.7"/></g><path d="M5.3 6.4V3.2H7.2V1.2Q9.3 -0.4 11.4 1.2V3.2H13.4V6.4Z" fill="#1182c6"/><rect x="8.3" y="1.9" width="2.1" height="1.4" fill="#fff"/></svg>
<div class="t " style="top:1533px;font-size:24px;left:829.70px;-webkit-text-stroke:0.3px #1182c6;color:#1182c6;letter-spacing:0.17px;">Link Sell with Top 15 Accounts</div>
<svg style="position:absolute;left:1199.00px;top:1530.80px" width="24.2" height="24" viewBox="0 0 24.2 24"><path d="M0 0H11.8V24H0Z M13.7 7.5H24V9H13.7Z M13.7 10.6H24V24H21V18H17V24H13.7Z" fill="#1182c6"/><rect x="1.90" y="2.60" width="2.8" height="2.8" fill="#fff"/><rect x="7.20" y="2.60" width="2.8" height="2.8" fill="#fff"/><rect x="1.90" y="8.70" width="2.8" height="2.8" fill="#fff"/><rect x="7.20" y="8.70" width="2.8" height="2.8" fill="#fff"/><rect x="1.90" y="14.80" width="2.8" height="2.8" fill="#fff"/><rect x="7.20" y="14.80" width="2.8" height="2.8" fill="#fff"/></svg>
<div class="t " style="top:1533px;font-size:24px;left:1230.60px;-webkit-text-stroke:0.3px #1182c6;color:#1182c6;letter-spacing:0px;">CCCS</div>
<div class="t " style="top:1533px;font-size:24px;left:1439.30px;-webkit-text-stroke:0.3px #222;color:#222;letter-spacing:0px;">In Progress</div>
<div class="t " style="top:1533px;font-size:24px;right:525.70px;-webkit-text-stroke:0.3px #222;color:#222;letter-spacing:0.15px;">01/08/2014</div>
<div class="t " style="top:1533px;font-size:24px;left:1841.20px;-webkit-text-stroke:0.3px #222;color:#222;letter-spacing:-0.08px;">Gary Warner</div>
</body></html>
